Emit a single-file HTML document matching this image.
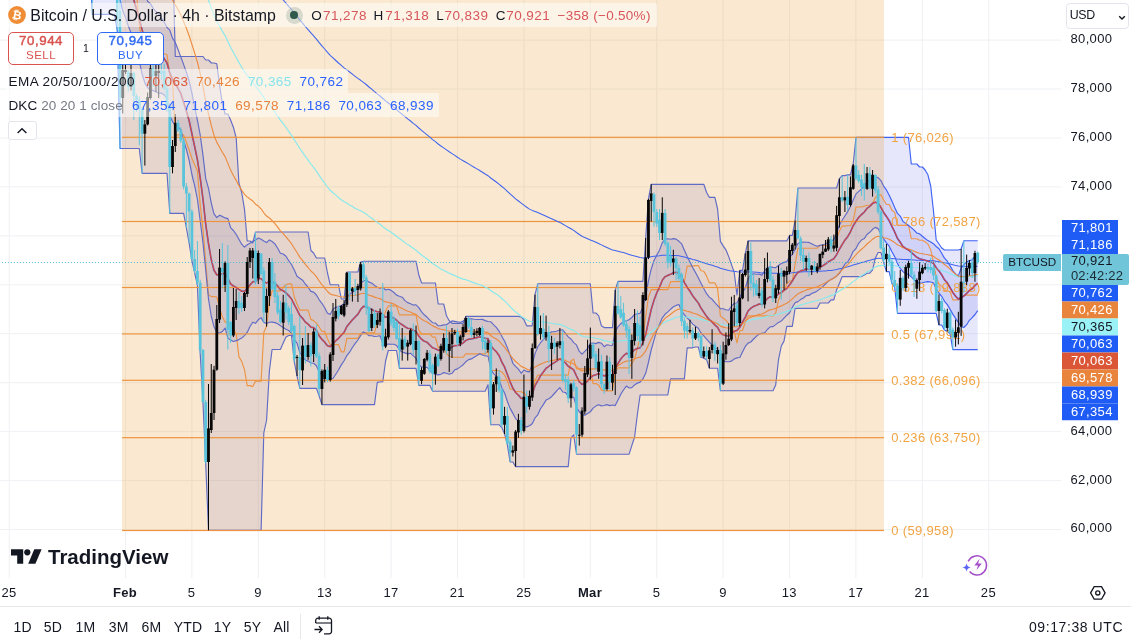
<!DOCTYPE html><html><head><meta charset="utf-8"><title>BTCUSD</title><style>
*{box-sizing:border-box;margin:0;padding:0}
html,body{width:1131px;height:644px;overflow:hidden;background:#fff}
body{font-family:"Liberation Sans",sans-serif;color:#131722;position:relative}
.abs{position:absolute;white-space:nowrap}
.pl{position:absolute;left:1061px;width:70px;font-size:13px;letter-spacing:.35px;color:#131722;height:16px;line-height:16px;padding-left:9.5px}
.tag{position:absolute;left:1062.3px;width:55.5px;height:17px;line-height:15.4px;font-size:13px;letter-spacing:.35px;color:#fff;padding-left:8.6px}
.tl{position:absolute;top:584.5px;font-size:13px;letter-spacing:.3px;color:#131722;height:16px;line-height:16px;transform:translateX(-50%);white-space:nowrap}
.bb{position:absolute;top:618.8px;font-size:14px;color:#131722;height:17px;line-height:17px;transform:translateX(-50%);white-space:nowrap;letter-spacing:.2px}
.lg{position:absolute;background:rgba(255,255,255,.52);border-radius:2px}
.v{letter-spacing:.45px}
</style></head><body>
<svg width="1131" height="644" viewBox="0 0 1131 644" style="position:absolute;left:0;top:0">
<defs><clipPath id="cp"><rect x="0" y="0" width="1061" height="578"/></clipPath></defs>
<rect x="0" y="39.6" width="1061" height="1" fill="#f0f1f4"/><rect x="0" y="88.5" width="1061" height="1" fill="#f0f1f4"/><rect x="0" y="137.5" width="1061" height="1" fill="#f0f1f4"/><rect x="0" y="186.4" width="1061" height="1" fill="#f0f1f4"/><rect x="0" y="235.4" width="1061" height="1" fill="#f0f1f4"/><rect x="0" y="284.3" width="1061" height="1" fill="#f0f1f4"/><rect x="0" y="333.2" width="1061" height="1" fill="#f0f1f4"/><rect x="0" y="382.2" width="1061" height="1" fill="#f0f1f4"/><rect x="0" y="431.1" width="1061" height="1" fill="#f0f1f4"/><rect x="0" y="480.1" width="1061" height="1" fill="#f0f1f4"/><rect x="0" y="529.0" width="1061" height="1" fill="#f0f1f4"/><rect x="8.8" y="0" width="1" height="578" fill="#f0f1f4"/><rect x="125.0" y="0" width="1" height="578" fill="#f0f1f4"/><rect x="191.4" y="0" width="1" height="578" fill="#f0f1f4"/><rect x="257.8" y="0" width="1" height="578" fill="#f0f1f4"/><rect x="324.2" y="0" width="1" height="578" fill="#f0f1f4"/><rect x="390.6" y="0" width="1" height="578" fill="#f0f1f4"/><rect x="457.0" y="0" width="1" height="578" fill="#f0f1f4"/><rect x="523.4" y="0" width="1" height="578" fill="#f0f1f4"/><rect x="589.8" y="0" width="1" height="578" fill="#f0f1f4"/><rect x="656.2" y="0" width="1" height="578" fill="#f0f1f4"/><rect x="722.6" y="0" width="1" height="578" fill="#f0f1f4"/><rect x="789.0" y="0" width="1" height="578" fill="#f0f1f4"/><rect x="855.4" y="0" width="1" height="578" fill="#f0f1f4"/><rect x="921.8" y="0" width="1" height="578" fill="#f0f1f4"/><rect x="988.2" y="0" width="1" height="578" fill="#f0f1f4"/>
<g clip-path="url(#cp)">
<path d="M86.7,-50.0 L89.5,-50.0 L92.3,-50.0 L95.0,-50.0 L97.8,-50.0 L100.6,-50.0 L103.3,-50.0 L106.1,-50.0 L108.9,-50.0 L111.6,-50.0 L114.4,-50.0 L117.2,-50.0 L120.0,-50.0 L122.7,-50.0 L125.5,-50.0 L128.3,-50.0 L131.0,-50.0 L133.8,-50.0 L136.6,-50.0 L139.3,-50.0 L142.1,-50.0 L144.9,-50.0 L147.6,-50.0 L150.4,-50.0 L153.2,-50.0 L155.9,-50.0 L158.7,-50.0 L161.5,-50.0 L164.2,-50.0 L167.0,-50.0 L169.8,-50.0 L172.5,-50.0 L175.3,56.5 L178.1,56.5 L180.8,56.5 L183.6,56.5 L186.4,56.5 L189.1,56.5 L191.9,56.5 L194.7,56.5 L197.4,56.5 L200.2,56.5 L203.0,56.5 L205.7,60.0 L208.5,60.0 L211.3,63.0 L214.0,63.0 L216.8,63.8 L219.6,85.3 L222.3,103.4 L225.1,114.0 L227.9,114.0 L230.6,120.0 L233.4,127.2 L236.2,138.0 L238.9,183.0 L241.7,192.5 L244.5,209.3 L247.2,241.0 L250.0,241.0 L252.8,243.0 L255.5,232.0 L258.3,232.0 L261.1,232.0 L263.8,232.0 L266.6,232.0 L269.4,232.0 L272.1,232.0 L274.9,232.0 L277.7,232.0 L280.4,232.0 L283.2,232.0 L286.0,232.0 L288.7,232.0 L291.5,232.0 L294.3,232.0 L297.0,232.0 L299.8,232.0 L302.6,232.0 L305.3,232.0 L308.1,232.0 L310.9,250.5 L313.6,253.0 L316.4,258.0 L319.2,258.0 L321.9,258.0 L324.7,258.0 L327.5,273.0 L330.2,284.7 L333.0,284.7 L335.8,284.7 L338.5,284.7 L341.3,299.0 L344.1,299.0 L346.8,272.0 L349.6,272.0 L352.4,272.0 L355.1,272.0 L357.9,272.0 L360.7,262.0 L363.4,261.2 L366.2,261.2 L369.0,261.2 L371.7,261.2 L374.5,261.2 L377.3,261.2 L380.0,261.2 L382.8,261.2 L385.6,261.2 L388.3,261.2 L391.1,261.2 L393.9,261.2 L396.6,261.2 L399.4,261.2 L402.2,261.2 L405.0,261.2 L407.7,261.2 L410.5,261.2 L413.3,261.2 L416.0,261.2 L418.8,275.0 L421.6,283.0 L424.3,283.0 L427.1,283.0 L429.9,283.0 L432.6,283.0 L435.4,283.0 L438.2,304.0 L440.9,304.0 L443.7,304.0 L446.5,315.8 L449.2,320.7 L452.0,323.3 L454.8,323.3 L457.5,323.3 L460.3,323.3 L463.1,323.3 L465.8,316.4 L468.6,316.4 L471.4,316.4 L474.1,316.4 L476.9,316.4 L479.7,316.4 L482.4,316.4 L485.2,316.4 L488.0,316.4 L490.7,316.4 L493.5,316.4 L496.3,316.4 L499.0,316.4 L501.8,316.4 L504.6,316.4 L507.3,316.4 L510.1,316.4 L512.9,316.4 L515.6,316.4 L518.4,316.4 L521.2,317.0 L523.9,319.5 L526.7,325.8 L529.5,325.8 L532.2,325.8 L535.0,294.7 L537.8,283.7 L540.5,283.7 L543.3,283.7 L546.1,283.7 L548.8,283.7 L551.6,283.7 L554.4,283.7 L557.1,283.7 L559.9,283.7 L562.7,283.7 L565.4,283.7 L568.2,283.7 L571.0,283.7 L573.7,283.7 L576.5,283.7 L579.3,283.7 L582.0,283.7 L584.8,283.7 L587.6,283.7 L590.3,283.7 L593.1,313.0 L595.9,313.0 L598.6,315.6 L601.4,325.7 L604.2,327.6 L606.9,327.6 L609.7,327.6 L612.5,327.6 L615.2,290.0 L618.0,281.4 L620.8,281.4 L623.5,281.4 L626.3,281.4 L629.1,281.4 L631.8,281.4 L634.6,281.4 L637.4,281.4 L640.1,281.4 L642.9,281.4 L645.7,238.0 L648.4,199.0 L651.2,184.3 L654.0,184.3 L656.7,184.3 L659.5,184.3 L662.3,184.3 L665.0,184.3 L667.8,184.3 L670.6,184.3 L673.4,184.3 L676.1,184.3 L678.9,184.3 L681.7,184.3 L684.4,184.3 L687.2,184.3 L690.0,184.3 L692.7,184.3 L695.5,184.3 L698.3,184.3 L701.0,184.3 L703.8,184.3 L706.6,192.5 L709.3,197.3 L712.1,197.3 L714.9,197.3 L717.6,209.0 L720.4,241.4 L723.2,245.9 L725.9,249.8 L728.7,256.6 L731.5,264.6 L734.2,272.4 L737.0,295.0 L739.8,270.4 L742.5,270.4 L745.3,253.3 L748.1,240.9 L750.8,240.9 L753.6,240.9 L756.4,240.9 L759.1,240.9 L761.9,240.9 L764.7,240.9 L767.4,240.9 L770.2,240.9 L773.0,240.9 L775.7,240.9 L778.5,240.9 L781.3,240.9 L784.0,240.9 L786.8,240.9 L789.6,235.4 L792.3,235.4 L795.1,220.6 L797.9,188.0 L800.6,188.0 L803.4,188.0 L806.2,188.0 L808.9,188.0 L811.7,188.0 L814.5,188.0 L817.2,188.0 L820.0,188.0 L822.8,188.0 L825.5,188.0 L828.3,188.0 L831.1,188.0 L833.8,188.0 L836.6,188.0 L839.4,178.7 L842.1,175.6 L844.9,175.6 L847.7,174.8 L850.4,174.8 L853.2,164.0 L856.0,137.3 L858.7,137.3 L861.5,137.3 L864.3,137.3 L867.0,137.3 L869.8,137.3 L872.6,137.3 L875.3,137.3 L878.1,137.3 L880.9,137.3 L883.6,137.3 L886.4,137.3 L889.2,137.3 L891.9,137.3 L894.7,137.3 L897.5,137.3 L900.2,137.3 L903.0,137.3 L905.8,137.3 L908.5,137.3 L911.3,164.0 L914.1,164.0 L916.8,164.0 L919.6,167.0 L922.4,167.0 L925.1,170.0 L927.9,174.8 L930.7,186.0 L933.4,210.3 L936.2,240.0 L939.0,244.0 L941.7,248.0 L944.5,250.0 L947.3,250.0 L950.1,250.0 L952.8,250.0 L955.6,250.0 L958.4,250.0 L961.1,249.0 L963.9,240.7 L966.7,240.7 L969.4,240.7 L972.2,240.7 L975.0,240.7 L977.7,240.7 L977.7,349.6 L975.0,349.6 L972.2,349.6 L969.4,349.6 L966.7,349.6 L963.9,349.6 L961.1,349.6 L958.4,349.6 L955.6,349.6 L952.8,349.6 L950.1,333.8 L947.3,331.4 L944.5,330.1 L941.7,325.0 L939.0,325.0 L936.2,313.4 L933.4,313.4 L930.7,313.4 L927.9,313.4 L925.1,313.4 L922.4,313.4 L919.6,313.4 L916.8,313.4 L914.1,313.4 L911.3,313.4 L908.5,313.4 L905.8,313.4 L903.0,313.4 L900.2,313.4 L897.5,313.4 L894.7,287.4 L891.9,283.4 L889.2,271.6 L886.4,271.6 L883.6,262.3 L880.9,252.5 L878.1,252.5 L875.3,258.2 L872.6,269.8 L869.8,273.2 L867.0,273.2 L864.3,275.0 L861.5,276.6 L858.7,276.6 L856.0,276.6 L853.2,276.6 L850.4,276.6 L847.7,276.6 L844.9,276.6 L842.1,276.6 L839.4,283.5 L836.6,289.8 L833.8,299.8 L831.1,299.8 L828.3,303.0 L825.5,303.0 L822.8,303.0 L820.0,303.0 L817.2,308.4 L814.5,308.4 L811.7,308.4 L808.9,308.4 L806.2,308.4 L803.4,308.4 L800.6,308.4 L797.9,308.4 L795.1,308.4 L792.3,326.4 L789.6,326.4 L786.8,326.4 L784.0,341.1 L781.3,346.0 L778.5,359.7 L775.7,385.0 L773.0,390.7 L770.2,390.7 L767.4,390.7 L764.7,390.7 L761.9,390.7 L759.1,390.7 L756.4,390.7 L753.6,390.7 L750.8,390.7 L748.1,390.7 L745.3,390.7 L742.5,390.7 L739.8,390.7 L737.0,390.7 L734.2,390.7 L731.5,390.7 L728.7,390.7 L725.9,390.7 L723.2,390.7 L720.4,390.7 L717.6,368.2 L714.9,368.2 L712.1,368.2 L709.3,368.2 L706.6,359.7 L703.8,358.2 L701.0,357.3 L698.3,347.0 L695.5,347.0 L692.7,347.8 L690.0,347.8 L687.2,347.8 L684.4,378.8 L681.7,378.8 L678.9,378.8 L676.1,378.8 L673.4,378.8 L670.6,378.8 L667.8,395.0 L665.0,395.0 L662.3,395.0 L659.5,395.0 L656.7,395.0 L654.0,395.0 L651.2,395.0 L648.4,395.0 L645.7,395.0 L642.9,395.0 L640.1,395.0 L637.4,414.3 L634.6,437.0 L631.8,445.6 L629.1,454.2 L626.3,454.2 L623.5,454.2 L620.8,454.2 L618.0,454.2 L615.2,454.2 L612.5,454.2 L609.7,454.2 L606.9,454.2 L604.2,454.2 L601.4,454.2 L598.6,454.2 L595.9,454.2 L593.1,454.2 L590.3,454.2 L587.6,454.2 L584.8,454.2 L582.0,454.2 L579.3,454.2 L576.5,454.2 L573.7,434.8 L571.0,437.9 L568.2,466.6 L565.4,466.6 L562.7,466.6 L559.9,466.6 L557.1,466.6 L554.4,466.6 L551.6,466.6 L548.8,466.6 L546.1,466.6 L543.3,466.6 L540.5,466.6 L537.8,466.6 L535.0,466.6 L532.2,466.6 L529.5,466.6 L526.7,466.6 L523.9,466.6 L521.2,466.6 L518.4,466.6 L515.6,466.6 L512.9,462.0 L510.1,462.0 L507.3,444.3 L504.6,434.0 L501.8,427.5 L499.0,424.7 L496.3,424.7 L493.5,424.7 L490.7,424.7 L488.0,384.7 L485.2,391.2 L482.4,391.2 L479.7,391.2 L476.9,391.2 L474.1,391.2 L471.4,391.2 L468.6,391.2 L465.8,391.2 L463.1,391.2 L460.3,391.2 L457.5,391.2 L454.8,391.2 L452.0,391.2 L449.2,391.2 L446.5,391.2 L443.7,391.2 L440.9,391.2 L438.2,391.2 L435.4,391.2 L432.6,391.2 L429.9,385.4 L427.1,385.4 L424.3,385.4 L421.6,385.4 L418.8,385.4 L416.0,368.4 L413.3,368.4 L410.5,368.4 L407.7,368.4 L405.0,368.4 L402.2,368.4 L399.4,368.4 L396.6,350.5 L393.9,350.5 L391.1,350.5 L388.3,350.5 L385.6,361.0 L382.8,381.6 L380.0,382.0 L377.3,382.4 L374.5,404.6 L371.7,404.6 L369.0,404.6 L366.2,404.6 L363.4,404.6 L360.7,404.6 L357.9,404.6 L355.1,404.6 L352.4,404.6 L349.6,404.6 L346.8,404.6 L344.1,404.6 L341.3,404.6 L338.5,404.6 L335.8,404.6 L333.0,404.6 L330.2,404.6 L327.5,404.6 L324.7,404.6 L321.9,404.6 L319.2,396.0 L316.4,388.3 L313.6,388.3 L310.9,388.3 L308.1,388.3 L305.3,388.3 L302.6,388.3 L299.8,388.3 L297.0,376.0 L294.3,362.0 L291.5,335.5 L288.7,335.5 L286.0,337.1 L283.2,343.0 L280.4,349.5 L277.7,349.5 L274.9,349.5 L272.1,349.5 L269.4,370.7 L266.6,420.0 L263.8,433.0 L261.1,530.3 L258.3,530.3 L255.5,530.3 L252.8,530.3 L250.0,530.3 L247.2,530.3 L244.5,530.3 L241.7,530.3 L238.9,530.3 L236.2,530.3 L233.4,530.3 L230.6,530.3 L227.9,530.3 L225.1,530.3 L222.3,530.3 L219.6,530.3 L216.8,530.3 L214.0,530.3 L211.3,530.3 L208.5,530.3 L205.7,463.6 L203.0,403.0 L200.2,353.4 L197.4,285.4 L194.7,273.2 L191.9,260.6 L189.1,243.0 L186.4,228.0 L183.6,213.4 L180.8,213.4 L178.1,213.4 L175.3,213.4 L172.5,213.4 L169.8,213.4 L167.0,173.3 L164.2,173.3 L161.5,173.3 L158.7,173.3 L155.9,173.3 L153.2,173.3 L150.4,173.3 L147.6,173.3 L144.9,173.3 L142.1,173.3 L139.3,148.5 L136.6,148.5 L133.8,148.5 L131.0,148.5 L128.3,148.5 L125.5,148.5 L122.7,148.5 L120.0,148.5 L117.2,30.0 L114.4,14.4 L111.6,14.4 L108.9,14.4 L106.1,14.4 L103.3,14.4 L100.6,14.4 L97.8,14.4 L95.0,14.4 L92.3,14.4 L89.5,-40.0 L86.7,-40.0Z" fill="rgba(55,60,225,0.125)"/>
<path d="M120.0,-50.0 L122.7,-50.0 L125.5,-50.0 L128.3,-50.0 L131.0,-50.0 L133.8,-43.4 L136.6,-31.5 L139.3,-22.8 L142.1,-14.1 L144.9,-5.3 L147.6,1.3 L150.4,3.6 L153.2,8.4 L155.9,11.3 L158.7,13.7 L161.5,17.8 L164.2,22.1 L167.0,27.4 L169.8,30.2 L172.5,38.1 L175.3,42.5 L178.1,49.8 L180.8,56.9 L183.6,64.4 L186.4,72.4 L189.1,80.8 L191.9,92.9 L194.7,107.7 L197.4,120.1 L200.2,135.0 L203.0,155.3 L205.7,178.4 L208.5,188.3 L211.3,203.1 L214.0,213.8 L216.8,217.6 L219.6,215.3 L222.3,216.4 L225.1,217.9 L227.9,218.6 L230.6,227.7 L233.4,230.5 L236.2,234.3 L238.9,239.2 L241.7,244.2 L244.5,247.1 L247.2,244.7 L250.0,243.3 L252.8,241.1 L255.5,240.0 L258.3,238.0 L261.1,239.3 L263.8,241.0 L266.6,242.6 L269.4,239.9 L272.1,241.5 L274.9,243.9 L277.7,248.3 L280.4,253.2 L283.2,254.0 L286.0,256.3 L288.7,260.7 L291.5,264.5 L294.3,269.9 L297.0,276.2 L299.8,278.3 L302.6,280.2 L305.3,284.0 L308.1,287.2 L310.9,291.4 L313.6,292.1 L316.4,295.0 L319.2,299.8 L321.9,303.3 L324.7,307.8 L327.5,313.2 L330.2,314.4 L333.0,309.1 L335.8,307.1 L338.5,306.7 L341.3,305.6 L344.1,303.8 L346.8,297.5 L349.6,294.2 L352.4,292.3 L355.1,290.5 L357.9,288.4 L360.7,283.3 L363.4,281.0 L366.2,279.7 L369.0,282.1 L371.7,283.0 L374.5,285.4 L377.3,287.2 L380.0,288.1 L382.8,287.2 L385.6,290.0 L388.3,289.3 L391.1,290.4 L393.9,292.5 L396.6,295.1 L399.4,296.2 L402.2,297.2 L405.0,300.6 L407.7,302.6 L410.5,303.7 L413.3,305.1 L416.0,304.8 L418.8,307.6 L421.6,311.9 L424.3,314.8 L427.1,317.3 L429.9,320.2 L432.6,322.7 L435.4,323.0 L438.2,325.8 L440.9,325.6 L443.7,324.9 L446.5,324.7 L449.2,322.7 L452.0,320.9 L454.8,321.4 L457.5,321.9 L460.3,322.2 L463.1,321.1 L465.8,319.3 L468.6,318.9 L471.4,318.7 L474.1,319.2 L476.9,319.5 L479.7,319.5 L482.4,319.4 L485.2,320.6 L488.0,321.5 L490.7,321.7 L493.5,324.6 L496.3,327.3 L499.0,331.1 L501.8,336.3 L504.6,341.3 L507.3,347.4 L510.1,355.3 L512.9,363.3 L515.6,366.3 L518.4,369.1 L521.2,373.3 L523.9,370.0 L526.7,371.4 L529.5,371.9 L532.2,364.2 L535.0,353.6 L537.8,346.8 L540.5,342.7 L543.3,339.6 L546.1,336.5 L548.8,334.1 L551.6,331.7 L554.4,331.7 L557.1,331.0 L559.9,330.0 L562.7,329.8 L565.4,333.2 L568.2,336.9 L571.0,339.0 L573.7,342.6 L576.5,344.9 L579.3,351.4 L582.0,354.2 L584.8,351.4 L587.6,348.5 L590.3,343.2 L593.1,343.0 L595.9,343.6 L598.6,342.4 L601.4,343.2 L604.2,346.7 L606.9,344.8 L609.7,345.2 L612.5,345.5 L615.2,331.7 L618.0,326.8 L620.8,323.7 L623.5,321.6 L626.3,320.8 L629.1,319.7 L631.8,317.5 L634.6,314.5 L637.4,313.8 L640.1,313.4 L642.9,306.6 L645.7,295.9 L648.4,281.1 L651.2,269.2 L654.0,260.5 L656.7,255.3 L659.5,250.2 L662.3,242.6 L665.0,239.2 L667.8,238.8 L670.6,239.2 L673.4,238.6 L676.1,239.1 L678.9,241.3 L681.7,243.9 L684.4,250.2 L687.2,256.4 L690.0,262.2 L692.7,267.6 L695.5,272.5 L698.3,277.8 L701.0,283.2 L703.8,288.5 L706.6,293.7 L709.3,297.1 L712.1,299.3 L714.9,302.7 L717.6,305.6 L720.4,308.7 L723.2,308.8 L725.9,309.7 L728.7,310.3 L731.5,306.0 L734.2,303.3 L737.0,303.0 L739.8,297.1 L742.5,292.4 L745.3,288.0 L748.1,278.7 L750.8,274.6 L753.6,273.7 L756.4,274.2 L759.1,274.1 L761.9,275.1 L764.7,270.7 L767.4,267.6 L770.2,266.9 L773.0,267.4 L775.7,267.6 L778.5,265.5 L781.3,263.5 L784.0,262.4 L786.8,261.6 L789.6,256.8 L792.3,254.5 L795.1,249.4 L797.9,243.5 L800.6,242.3 L803.4,242.1 L806.2,242.2 L808.9,242.4 L811.7,243.7 L814.5,245.2 L817.2,246.3 L820.0,245.4 L822.8,244.7 L825.5,244.0 L828.3,242.2 L831.1,241.0 L833.8,239.8 L836.6,233.1 L839.4,225.1 L842.1,220.2 L844.9,216.0 L847.7,211.6 L850.4,206.4 L853.2,200.0 L856.0,193.9 L858.7,191.4 L861.5,189.0 L864.3,185.5 L867.0,182.2 L869.8,180.6 L872.6,177.5 L875.3,177.0 L878.1,177.6 L880.9,180.6 L883.6,186.1 L886.4,189.9 L889.2,195.2 L891.9,200.9 L894.7,207.5 L897.5,213.4 L900.2,216.1 L903.0,221.6 L905.8,223.4 L908.5,225.5 L911.3,227.6 L914.1,230.2 L916.8,233.0 L919.6,233.9 L922.4,236.3 L925.1,238.5 L927.9,240.6 L930.7,241.9 L933.4,243.7 L936.2,246.5 L939.0,248.8 L941.7,253.2 L944.5,258.2 L947.3,261.2 L950.1,265.9 L952.8,270.6 L955.6,273.9 L958.4,275.9 L961.1,268.2 L963.9,264.6 L966.7,262.0 L969.4,260.6 L972.2,259.9 L975.0,256.3 L977.7,255.7 L977.7,310.7 L975.0,314.5 L972.2,317.7 L969.4,320.3 L966.7,324.7 L963.9,327.5 L961.1,326.8 L958.4,322.4 L955.6,318.4 L952.8,314.1 L950.1,309.4 L947.3,304.6 L944.5,301.3 L941.7,296.3 L939.0,293.1 L936.2,289.1 L933.4,282.8 L930.7,282.0 L927.9,281.6 L925.1,282.0 L922.4,282.8 L919.6,283.4 L916.8,281.6 L914.1,279.7 L911.3,276.9 L908.5,274.4 L905.8,273.7 L903.0,271.6 L900.2,268.3 L897.5,263.6 L894.7,256.6 L891.9,251.8 L889.2,246.2 L886.4,242.8 L883.6,238.8 L880.9,234.2 L878.1,228.6 L875.3,227.4 L872.6,229.3 L869.8,232.3 L867.0,234.5 L864.3,238.6 L861.5,240.0 L858.7,243.3 L856.0,248.5 L853.2,251.3 L850.4,257.6 L847.7,261.9 L844.9,264.1 L842.1,268.9 L839.4,273.4 L836.6,276.2 L833.8,277.9 L831.1,279.5 L828.3,281.2 L825.5,284.2 L822.8,286.7 L820.0,288.9 L817.2,290.9 L814.5,292.4 L811.7,293.5 L808.9,295.4 L806.2,295.6 L803.4,298.0 L800.6,299.6 L797.9,301.6 L795.1,302.8 L792.3,307.4 L789.6,312.8 L786.8,315.3 L784.0,318.2 L781.3,321.1 L778.5,322.4 L775.7,324.6 L773.0,326.6 L770.2,326.8 L767.4,329.5 L764.7,332.8 L761.9,333.2 L759.1,334.1 L756.4,336.3 L753.6,339.0 L750.8,342.0 L748.1,343.1 L745.3,346.4 L742.5,352.0 L739.8,357.5 L737.0,357.9 L734.2,359.0 L731.5,361.1 L728.7,361.7 L725.9,361.7 L723.2,360.6 L720.4,356.8 L717.6,349.2 L714.9,347.4 L712.1,344.7 L709.3,342.2 L706.6,339.1 L703.8,335.8 L701.0,333.0 L698.3,328.2 L695.5,326.2 L692.7,324.1 L690.0,320.5 L687.2,318.1 L684.4,315.0 L681.7,311.2 L678.9,304.5 L676.1,305.4 L673.4,306.8 L670.6,309.2 L667.8,311.9 L665.0,314.3 L662.3,317.8 L659.5,324.3 L656.7,330.7 L654.0,340.1 L651.2,350.0 L648.4,362.5 L645.7,373.3 L642.9,378.9 L640.1,382.1 L637.4,383.1 L634.6,384.9 L631.8,387.6 L629.1,388.0 L626.3,386.1 L623.5,390.0 L620.8,394.3 L618.0,400.0 L615.2,405.6 L612.5,405.0 L609.7,405.6 L606.9,404.6 L604.2,405.5 L601.4,405.9 L598.6,404.7 L595.9,406.1 L593.1,408.1 L590.3,411.8 L587.6,413.4 L584.8,415.3 L582.0,414.6 L579.3,411.9 L576.5,407.2 L573.7,397.2 L571.0,396.9 L568.2,395.6 L565.4,392.5 L562.7,392.0 L559.9,387.7 L557.1,390.4 L554.4,393.5 L551.6,396.7 L548.8,398.8 L546.1,400.1 L543.3,404.6 L540.5,408.8 L537.8,414.8 L535.0,417.9 L532.2,423.8 L529.5,425.8 L526.7,426.9 L523.9,426.6 L521.2,423.7 L518.4,421.0 L515.6,418.6 L512.9,413.4 L510.1,408.4 L507.3,401.3 L504.6,393.0 L501.8,387.7 L499.0,379.6 L496.3,376.1 L493.5,373.6 L490.7,369.0 L488.0,356.0 L485.2,356.0 L482.4,355.0 L479.7,353.8 L476.9,355.6 L474.1,357.3 L471.4,358.9 L468.6,359.6 L465.8,361.8 L463.1,364.7 L460.3,366.9 L457.5,368.9 L454.8,369.8 L452.0,373.3 L449.2,374.3 L446.5,373.3 L443.7,372.6 L440.9,374.2 L438.2,374.9 L435.4,374.4 L432.6,373.0 L429.9,370.0 L427.1,367.3 L424.3,367.6 L421.6,366.8 L418.8,364.7 L416.0,358.2 L413.3,355.9 L410.5,353.2 L407.7,353.9 L405.0,352.9 L402.2,352.1 L399.4,350.0 L396.6,345.5 L393.9,344.2 L391.1,344.2 L388.3,344.1 L385.6,344.4 L382.8,343.2 L380.0,335.8 L377.3,336.3 L374.5,336.5 L371.7,335.7 L369.0,335.7 L366.2,333.4 L363.4,331.9 L360.7,335.5 L357.9,340.0 L355.1,343.7 L352.4,347.5 L349.6,352.2 L346.8,355.7 L344.1,360.7 L341.3,364.9 L338.5,370.0 L335.8,374.2 L333.0,378.5 L330.2,378.8 L327.5,378.3 L324.7,376.5 L321.9,375.3 L319.2,372.1 L316.4,365.7 L313.6,363.2 L310.9,363.0 L308.1,361.1 L305.3,360.0 L302.6,356.3 L299.8,352.5 L297.0,343.1 L294.3,339.5 L291.5,333.4 L288.7,330.5 L286.0,329.3 L283.2,327.4 L280.4,325.8 L277.7,323.8 L274.9,322.6 L272.1,322.1 L269.4,322.2 L266.6,323.5 L263.8,322.4 L261.1,317.6 L258.3,319.8 L255.5,323.3 L252.8,322.2 L250.0,326.5 L247.2,332.4 L244.5,335.6 L241.7,338.1 L238.9,339.6 L236.2,340.6 L233.4,341.5 L230.6,340.0 L227.9,338.1 L225.1,328.0 L222.3,331.6 L219.6,333.1 L216.8,332.2 L214.0,326.7 L211.3,316.5 L208.5,299.0 L205.7,270.0 L203.0,243.1 L200.2,220.7 L197.4,199.3 L194.7,185.9 L191.9,174.5 L189.1,160.2 L186.4,149.5 L183.6,140.1 L180.8,129.8 L178.1,127.0 L175.3,125.3 L172.5,121.6 L169.8,115.5 L167.0,98.5 L164.2,95.0 L161.5,93.0 L158.7,93.2 L155.9,91.8 L153.2,90.6 L150.4,89.9 L147.6,87.6 L144.9,83.1 L142.1,74.0 L139.3,60.8 L136.6,50.5 L133.8,43.4 L131.0,32.9 L128.3,26.0 L125.5,17.2 L122.7,10.7 L120.0,-0.6Z" fill="rgba(55,60,225,0.125)"/>
<path d="M86.7,-50.0 L89.5,-50.0 L92.3,-50.0 L95.0,-50.0 L97.8,-50.0 L100.6,-50.0 L103.3,-50.0 L106.1,-50.0 L108.9,-50.0 L111.6,-50.0 L114.4,-50.0 L117.2,-50.0 L120.0,-50.0 L122.7,-50.0 L125.5,-50.0 L128.3,-50.0 L131.0,-50.0 L133.8,-50.0 L136.6,-50.0 L139.3,-50.0 L142.1,-50.0 L144.9,-50.0 L147.6,-50.0 L150.4,-50.0 L153.2,-50.0 L155.9,-50.0 L158.7,-50.0 L161.5,-50.0 L164.2,-50.0 L167.0,-50.0 L169.8,-50.0 L172.5,-50.0 L175.3,56.5 L178.1,56.5 L180.8,56.5 L183.6,56.5 L186.4,56.5 L189.1,56.5 L191.9,56.5 L194.7,56.5 L197.4,56.5 L200.2,56.5 L203.0,56.5 L205.7,60.0 L208.5,60.0 L211.3,63.0 L214.0,63.0 L216.8,63.8 L219.6,85.3 L222.3,103.4 L225.1,114.0 L227.9,114.0 L230.6,120.0 L233.4,127.2 L236.2,138.0 L238.9,183.0 L241.7,192.5 L244.5,209.3 L247.2,241.0 L250.0,241.0 L252.8,243.0 L255.5,232.0 L258.3,232.0 L261.1,232.0 L263.8,232.0 L266.6,232.0 L269.4,232.0 L272.1,232.0 L274.9,232.0 L277.7,232.0 L280.4,232.0 L283.2,232.0 L286.0,232.0 L288.7,232.0 L291.5,232.0 L294.3,232.0 L297.0,232.0 L299.8,232.0 L302.6,232.0 L305.3,232.0 L308.1,232.0 L310.9,250.5 L313.6,253.0 L316.4,258.0 L319.2,258.0 L321.9,258.0 L324.7,258.0 L327.5,273.0 L330.2,284.7 L333.0,284.7 L335.8,284.7 L338.5,284.7 L341.3,299.0 L344.1,299.0 L346.8,272.0 L349.6,272.0 L352.4,272.0 L355.1,272.0 L357.9,272.0 L360.7,262.0 L363.4,261.2 L366.2,261.2 L369.0,261.2 L371.7,261.2 L374.5,261.2 L377.3,261.2 L380.0,261.2 L382.8,261.2 L385.6,261.2 L388.3,261.2 L391.1,261.2 L393.9,261.2 L396.6,261.2 L399.4,261.2 L402.2,261.2 L405.0,261.2 L407.7,261.2 L410.5,261.2 L413.3,261.2 L416.0,261.2 L418.8,275.0 L421.6,283.0 L424.3,283.0 L427.1,283.0 L429.9,283.0 L432.6,283.0 L435.4,283.0 L438.2,304.0 L440.9,304.0 L443.7,304.0 L446.5,315.8 L449.2,320.7 L452.0,323.3 L454.8,323.3 L457.5,323.3 L460.3,323.3 L463.1,323.3 L465.8,316.4 L468.6,316.4 L471.4,316.4 L474.1,316.4 L476.9,316.4 L479.7,316.4 L482.4,316.4 L485.2,316.4 L488.0,316.4 L490.7,316.4 L493.5,316.4 L496.3,316.4 L499.0,316.4 L501.8,316.4 L504.6,316.4 L507.3,316.4 L510.1,316.4 L512.9,316.4 L515.6,316.4 L518.4,316.4 L521.2,317.0 L523.9,319.5 L526.7,325.8 L529.5,325.8 L532.2,325.8 L535.0,294.7 L537.8,283.7 L540.5,283.7 L543.3,283.7 L546.1,283.7 L548.8,283.7 L551.6,283.7 L554.4,283.7 L557.1,283.7 L559.9,283.7 L562.7,283.7 L565.4,283.7 L568.2,283.7 L571.0,283.7 L573.7,283.7 L576.5,283.7 L579.3,283.7 L582.0,283.7 L584.8,283.7 L587.6,283.7 L590.3,283.7 L593.1,313.0 L595.9,313.0 L598.6,315.6 L601.4,325.7 L604.2,327.6 L606.9,327.6 L609.7,327.6 L612.5,327.6 L615.2,290.0 L618.0,281.4 L620.8,281.4 L623.5,281.4 L626.3,281.4 L629.1,281.4 L631.8,281.4 L634.6,281.4 L637.4,281.4 L640.1,281.4 L642.9,281.4 L645.7,238.0 L648.4,199.0 L651.2,184.3 L654.0,184.3 L656.7,184.3 L659.5,184.3 L662.3,184.3 L665.0,184.3 L667.8,184.3 L670.6,184.3 L673.4,184.3 L676.1,184.3 L678.9,184.3 L681.7,184.3 L684.4,184.3 L687.2,184.3 L690.0,184.3 L692.7,184.3 L695.5,184.3 L698.3,184.3 L701.0,184.3 L703.8,184.3 L706.6,192.5 L709.3,197.3 L712.1,197.3 L714.9,197.3 L717.6,209.0 L720.4,241.4 L723.2,245.9 L725.9,249.8 L728.7,256.6 L731.5,264.6 L734.2,272.4 L737.0,295.0 L739.8,270.4 L742.5,270.4 L745.3,253.3 L748.1,240.9 L750.8,240.9 L753.6,240.9 L756.4,240.9 L759.1,240.9 L761.9,240.9 L764.7,240.9 L767.4,240.9 L770.2,240.9 L773.0,240.9 L775.7,240.9 L778.5,240.9 L781.3,240.9 L784.0,240.9 L786.8,240.9 L789.6,235.4 L792.3,235.4 L795.1,220.6 L797.9,188.0 L800.6,188.0 L803.4,188.0 L806.2,188.0 L808.9,188.0 L811.7,188.0 L814.5,188.0 L817.2,188.0 L820.0,188.0 L822.8,188.0 L825.5,188.0 L828.3,188.0 L831.1,188.0 L833.8,188.0 L836.6,188.0 L839.4,178.7 L842.1,175.6 L844.9,175.6 L847.7,174.8 L850.4,174.8 L853.2,164.0 L856.0,137.3 L858.7,137.3 L861.5,137.3 L864.3,137.3 L867.0,137.3 L869.8,137.3 L872.6,137.3 L875.3,137.3 L878.1,137.3 L880.9,137.3 L883.6,137.3 L886.4,137.3 L889.2,137.3 L891.9,137.3 L894.7,137.3 L897.5,137.3 L900.2,137.3 L903.0,137.3 L905.8,137.3 L908.5,137.3 L911.3,164.0 L914.1,164.0 L916.8,164.0 L919.6,167.0 L922.4,167.0 L925.1,170.0 L927.9,174.8 L930.7,186.0 L933.4,210.3 L936.2,240.0 L939.0,244.0 L941.7,248.0 L944.5,250.0 L947.3,250.0 L950.1,250.0 L952.8,250.0 L955.6,250.0 L958.4,250.0 L961.1,249.0 L963.9,240.7 L966.7,240.7 L969.4,240.7 L972.2,240.7 L975.0,240.7 L977.7,240.7" fill="none" stroke="#3f62f3" stroke-width="1.15" stroke-linejoin="round"/>
<path d="M86.7,-40.0 L89.5,-40.0 L92.3,14.4 L95.0,14.4 L97.8,14.4 L100.6,14.4 L103.3,14.4 L106.1,14.4 L108.9,14.4 L111.6,14.4 L114.4,14.4 L117.2,30.0 L120.0,148.5 L122.7,148.5 L125.5,148.5 L128.3,148.5 L131.0,148.5 L133.8,148.5 L136.6,148.5 L139.3,148.5 L142.1,173.3 L144.9,173.3 L147.6,173.3 L150.4,173.3 L153.2,173.3 L155.9,173.3 L158.7,173.3 L161.5,173.3 L164.2,173.3 L167.0,173.3 L169.8,213.4 L172.5,213.4 L175.3,213.4 L178.1,213.4 L180.8,213.4 L183.6,213.4 L186.4,228.0 L189.1,243.0 L191.9,260.6 L194.7,273.2 L197.4,285.4 L200.2,353.4 L203.0,403.0 L205.7,463.6 L208.5,530.3 L211.3,530.3 L214.0,530.3 L216.8,530.3 L219.6,530.3 L222.3,530.3 L225.1,530.3 L227.9,530.3 L230.6,530.3 L233.4,530.3 L236.2,530.3 L238.9,530.3 L241.7,530.3 L244.5,530.3 L247.2,530.3 L250.0,530.3 L252.8,530.3 L255.5,530.3 L258.3,530.3 L261.1,530.3 L263.8,433.0 L266.6,420.0 L269.4,370.7 L272.1,349.5 L274.9,349.5 L277.7,349.5 L280.4,349.5 L283.2,343.0 L286.0,337.1 L288.7,335.5 L291.5,335.5 L294.3,362.0 L297.0,376.0 L299.8,388.3 L302.6,388.3 L305.3,388.3 L308.1,388.3 L310.9,388.3 L313.6,388.3 L316.4,388.3 L319.2,396.0 L321.9,404.6 L324.7,404.6 L327.5,404.6 L330.2,404.6 L333.0,404.6 L335.8,404.6 L338.5,404.6 L341.3,404.6 L344.1,404.6 L346.8,404.6 L349.6,404.6 L352.4,404.6 L355.1,404.6 L357.9,404.6 L360.7,404.6 L363.4,404.6 L366.2,404.6 L369.0,404.6 L371.7,404.6 L374.5,404.6 L377.3,382.4 L380.0,382.0 L382.8,381.6 L385.6,361.0 L388.3,350.5 L391.1,350.5 L393.9,350.5 L396.6,350.5 L399.4,368.4 L402.2,368.4 L405.0,368.4 L407.7,368.4 L410.5,368.4 L413.3,368.4 L416.0,368.4 L418.8,385.4 L421.6,385.4 L424.3,385.4 L427.1,385.4 L429.9,385.4 L432.6,391.2 L435.4,391.2 L438.2,391.2 L440.9,391.2 L443.7,391.2 L446.5,391.2 L449.2,391.2 L452.0,391.2 L454.8,391.2 L457.5,391.2 L460.3,391.2 L463.1,391.2 L465.8,391.2 L468.6,391.2 L471.4,391.2 L474.1,391.2 L476.9,391.2 L479.7,391.2 L482.4,391.2 L485.2,391.2 L488.0,384.7 L490.7,424.7 L493.5,424.7 L496.3,424.7 L499.0,424.7 L501.8,427.5 L504.6,434.0 L507.3,444.3 L510.1,462.0 L512.9,462.0 L515.6,466.6 L518.4,466.6 L521.2,466.6 L523.9,466.6 L526.7,466.6 L529.5,466.6 L532.2,466.6 L535.0,466.6 L537.8,466.6 L540.5,466.6 L543.3,466.6 L546.1,466.6 L548.8,466.6 L551.6,466.6 L554.4,466.6 L557.1,466.6 L559.9,466.6 L562.7,466.6 L565.4,466.6 L568.2,466.6 L571.0,437.9 L573.7,434.8 L576.5,454.2 L579.3,454.2 L582.0,454.2 L584.8,454.2 L587.6,454.2 L590.3,454.2 L593.1,454.2 L595.9,454.2 L598.6,454.2 L601.4,454.2 L604.2,454.2 L606.9,454.2 L609.7,454.2 L612.5,454.2 L615.2,454.2 L618.0,454.2 L620.8,454.2 L623.5,454.2 L626.3,454.2 L629.1,454.2 L631.8,445.6 L634.6,437.0 L637.4,414.3 L640.1,395.0 L642.9,395.0 L645.7,395.0 L648.4,395.0 L651.2,395.0 L654.0,395.0 L656.7,395.0 L659.5,395.0 L662.3,395.0 L665.0,395.0 L667.8,395.0 L670.6,378.8 L673.4,378.8 L676.1,378.8 L678.9,378.8 L681.7,378.8 L684.4,378.8 L687.2,347.8 L690.0,347.8 L692.7,347.8 L695.5,347.0 L698.3,347.0 L701.0,357.3 L703.8,358.2 L706.6,359.7 L709.3,368.2 L712.1,368.2 L714.9,368.2 L717.6,368.2 L720.4,390.7 L723.2,390.7 L725.9,390.7 L728.7,390.7 L731.5,390.7 L734.2,390.7 L737.0,390.7 L739.8,390.7 L742.5,390.7 L745.3,390.7 L748.1,390.7 L750.8,390.7 L753.6,390.7 L756.4,390.7 L759.1,390.7 L761.9,390.7 L764.7,390.7 L767.4,390.7 L770.2,390.7 L773.0,390.7 L775.7,385.0 L778.5,359.7 L781.3,346.0 L784.0,341.1 L786.8,326.4 L789.6,326.4 L792.3,326.4 L795.1,308.4 L797.9,308.4 L800.6,308.4 L803.4,308.4 L806.2,308.4 L808.9,308.4 L811.7,308.4 L814.5,308.4 L817.2,308.4 L820.0,303.0 L822.8,303.0 L825.5,303.0 L828.3,303.0 L831.1,299.8 L833.8,299.8 L836.6,289.8 L839.4,283.5 L842.1,276.6 L844.9,276.6 L847.7,276.6 L850.4,276.6 L853.2,276.6 L856.0,276.6 L858.7,276.6 L861.5,276.6 L864.3,275.0 L867.0,273.2 L869.8,273.2 L872.6,269.8 L875.3,258.2 L878.1,252.5 L880.9,252.5 L883.6,262.3 L886.4,271.6 L889.2,271.6 L891.9,283.4 L894.7,287.4 L897.5,313.4 L900.2,313.4 L903.0,313.4 L905.8,313.4 L908.5,313.4 L911.3,313.4 L914.1,313.4 L916.8,313.4 L919.6,313.4 L922.4,313.4 L925.1,313.4 L927.9,313.4 L930.7,313.4 L933.4,313.4 L936.2,313.4 L939.0,325.0 L941.7,325.0 L944.5,330.1 L947.3,331.4 L950.1,333.8 L952.8,349.6 L955.6,349.6 L958.4,349.6 L961.1,349.6 L963.9,349.6 L966.7,349.6 L969.4,349.6 L972.2,349.6 L975.0,349.6 L977.7,349.6" fill="none" stroke="#3f62f3" stroke-width="1.15" stroke-linejoin="round"/>
<path d="M86.7,-50.0 L89.5,-50.0 L92.3,-50.0 L95.0,-50.0 L97.8,-50.0 L100.6,-50.0 L103.3,-50.0 L106.1,-50.0 L108.9,-50.0 L111.6,-50.0 L114.4,-50.0 L117.2,-50.0 L120.0,-50.0 L122.7,-50.0 L125.5,-50.0 L128.3,-50.0 L131.0,-50.0 L133.8,-50.0 L136.6,-5.8 L139.3,25.2 L142.1,41.7 L144.9,44.2 L147.6,46.7 L150.4,47.7 L153.2,49.2 L155.9,50.7 L158.7,51.7 L161.5,52.7 L164.2,53.7 L167.0,54.7 L169.8,75.7 L172.5,76.7 L175.3,134.9 L178.1,134.9 L180.8,134.9 L183.6,134.9 L186.4,142.2 L189.1,149.8 L191.9,158.6 L194.7,164.8 L197.4,171.0 L200.2,204.9 L203.0,229.8 L205.7,261.8 L208.5,295.1 L211.3,296.6 L214.0,296.6 L216.8,297.0 L219.6,307.8 L222.3,316.8 L225.1,322.1 L227.9,322.1 L230.6,325.1 L233.4,328.8 L236.2,334.1 L238.9,356.6 L241.7,361.4 L244.5,369.8 L247.2,385.6 L250.0,385.6 L252.8,386.6 L255.5,381.1 L258.3,381.1 L261.1,381.1 L263.8,332.5 L266.6,326.0 L269.4,301.4 L272.1,290.8 L274.9,290.8 L277.7,290.8 L280.4,290.8 L283.2,287.5 L286.0,284.6 L288.7,283.8 L291.5,283.8 L294.3,297.0 L297.0,304.0 L299.8,310.1 L302.6,310.1 L305.3,310.1 L308.1,310.1 L310.9,319.4 L313.6,320.6 L316.4,323.1 L319.2,327.0 L321.9,331.3 L324.7,331.3 L327.5,338.8 L330.2,344.6 L333.0,344.6 L335.8,344.6 L338.5,344.6 L341.3,351.8 L344.1,351.8 L346.8,338.3 L349.6,338.3 L352.4,338.3 L355.1,338.3 L357.9,338.3 L360.7,333.3 L363.4,332.9 L366.2,332.9 L369.0,332.9 L371.7,332.9 L374.5,332.9 L377.3,321.8 L380.0,321.6 L382.8,321.4 L385.6,311.1 L388.3,305.9 L391.1,305.9 L393.9,305.9 L396.6,305.9 L399.4,314.8 L402.2,314.8 L405.0,314.8 L407.7,314.8 L410.5,314.8 L413.3,314.8 L416.0,314.8 L418.8,330.2 L421.6,334.2 L424.3,334.2 L427.1,334.2 L429.9,334.2 L432.6,337.1 L435.4,337.1 L438.2,347.6 L440.9,347.6 L443.7,347.6 L446.5,353.5 L449.2,355.9 L452.0,357.2 L454.8,357.2 L457.5,357.2 L460.3,357.2 L463.1,357.2 L465.8,353.8 L468.6,353.8 L471.4,353.8 L474.1,353.8 L476.9,353.8 L479.7,353.8 L482.4,353.8 L485.2,353.8 L488.0,350.5 L490.7,370.5 L493.5,370.5 L496.3,370.5 L499.0,370.5 L501.8,371.9 L504.6,375.2 L507.3,380.4 L510.1,389.2 L512.9,389.2 L515.6,391.5 L518.4,391.5 L521.2,391.8 L523.9,393.1 L526.7,396.2 L529.5,396.2 L532.2,396.2 L535.0,380.6 L537.8,375.1 L540.5,375.1 L543.3,375.1 L546.1,375.1 L548.8,375.1 L551.6,375.1 L554.4,375.1 L557.1,375.1 L559.9,375.1 L562.7,375.1 L565.4,375.1 L568.2,375.1 L571.0,360.8 L573.7,359.2 L576.5,368.9 L579.3,368.9 L582.0,368.9 L584.8,368.9 L587.6,368.9 L590.3,368.9 L593.1,383.6 L595.9,383.6 L598.6,384.9 L601.4,389.9 L604.2,390.9 L606.9,390.9 L609.7,390.9 L612.5,390.9 L615.2,372.1 L618.0,367.8 L620.8,367.8 L623.5,367.8 L626.3,367.8 L629.1,367.8 L631.8,363.5 L634.6,359.2 L637.4,347.9 L640.1,338.2 L642.9,338.2 L645.7,316.5 L648.4,297.0 L651.2,289.6 L654.0,289.6 L656.7,289.6 L659.5,289.6 L662.3,289.6 L665.0,289.6 L667.8,289.6 L670.6,281.6 L673.4,281.6 L676.1,281.6 L678.9,281.6 L681.7,281.6 L684.4,281.6 L687.2,266.1 L690.0,266.1 L692.7,266.1 L695.5,265.6 L698.3,265.6 L701.0,270.8 L703.8,271.2 L706.6,276.1 L709.3,282.8 L712.1,282.8 L714.9,282.8 L717.6,288.6 L720.4,316.1 L723.2,318.3 L725.9,320.2 L728.7,323.6 L731.5,327.6 L734.2,331.5 L737.0,342.9 L739.8,330.5 L742.5,330.5 L745.3,322.0 L748.1,315.8 L750.8,315.8 L753.6,315.8 L756.4,315.8 L759.1,315.8 L761.9,315.8 L764.7,315.8 L767.4,315.8 L770.2,315.8 L773.0,315.8 L775.7,312.9 L778.5,300.3 L781.3,293.4 L784.0,291.0 L786.8,283.6 L789.6,280.9 L792.3,280.9 L795.1,264.5 L797.9,248.2 L800.6,248.2 L803.4,248.2 L806.2,248.2 L808.9,248.2 L811.7,248.2 L814.5,248.2 L817.2,248.2 L820.0,245.5 L822.8,245.5 L825.5,245.5 L828.3,245.5 L831.1,243.9 L833.8,243.9 L836.6,238.9 L839.4,231.1 L842.1,226.1 L844.9,226.1 L847.7,225.7 L850.4,225.7 L853.2,220.3 L856.0,207.0 L858.7,207.0 L861.5,207.0 L864.3,206.2 L867.0,205.2 L869.8,205.2 L872.6,203.6 L875.3,197.8 L878.1,194.9 L880.9,194.9 L883.6,199.8 L886.4,204.5 L889.2,204.5 L891.9,210.3 L894.7,212.3 L897.5,225.3 L900.2,225.3 L903.0,225.3 L905.8,225.3 L908.5,225.3 L911.3,238.7 L914.1,238.7 L916.8,238.7 L919.6,240.2 L922.4,240.2 L925.1,241.7 L927.9,244.1 L930.7,249.7 L933.4,261.9 L936.2,276.7 L939.0,284.5 L941.7,286.5 L944.5,290.1 L947.3,290.7 L950.1,291.9 L952.8,299.8 L955.6,299.8 L958.4,299.8 L961.1,299.3 L963.9,295.1 L966.7,295.1 L969.4,295.1 L972.2,295.1 L975.0,295.1 L977.7,295.1" fill="none" stroke="#ee9650" stroke-width="1.15" stroke-linejoin="round"/>
<path d="M120.0,-50.0 L122.7,-50.0 L125.5,-50.0 L128.3,-50.0 L131.0,-50.0 L133.8,-43.4 L136.6,-31.5 L139.3,-22.8 L142.1,-14.1 L144.9,-5.3 L147.6,1.3 L150.4,3.6 L153.2,8.4 L155.9,11.3 L158.7,13.7 L161.5,17.8 L164.2,22.1 L167.0,27.4 L169.8,30.2 L172.5,38.1 L175.3,42.5 L178.1,49.8 L180.8,56.9 L183.6,64.4 L186.4,72.4 L189.1,80.8 L191.9,92.9 L194.7,107.7 L197.4,120.1 L200.2,135.0 L203.0,155.3 L205.7,178.4 L208.5,188.3 L211.3,203.1 L214.0,213.8 L216.8,217.6 L219.6,215.3 L222.3,216.4 L225.1,217.9 L227.9,218.6 L230.6,227.7 L233.4,230.5 L236.2,234.3 L238.9,239.2 L241.7,244.2 L244.5,247.1 L247.2,244.7 L250.0,243.3 L252.8,241.1 L255.5,240.0 L258.3,238.0 L261.1,239.3 L263.8,241.0 L266.6,242.6 L269.4,239.9 L272.1,241.5 L274.9,243.9 L277.7,248.3 L280.4,253.2 L283.2,254.0 L286.0,256.3 L288.7,260.7 L291.5,264.5 L294.3,269.9 L297.0,276.2 L299.8,278.3 L302.6,280.2 L305.3,284.0 L308.1,287.2 L310.9,291.4 L313.6,292.1 L316.4,295.0 L319.2,299.8 L321.9,303.3 L324.7,307.8 L327.5,313.2 L330.2,314.4 L333.0,309.1 L335.8,307.1 L338.5,306.7 L341.3,305.6 L344.1,303.8 L346.8,297.5 L349.6,294.2 L352.4,292.3 L355.1,290.5 L357.9,288.4 L360.7,283.3 L363.4,281.0 L366.2,279.7 L369.0,282.1 L371.7,283.0 L374.5,285.4 L377.3,287.2 L380.0,288.1 L382.8,287.2 L385.6,290.0 L388.3,289.3 L391.1,290.4 L393.9,292.5 L396.6,295.1 L399.4,296.2 L402.2,297.2 L405.0,300.6 L407.7,302.6 L410.5,303.7 L413.3,305.1 L416.0,304.8 L418.8,307.6 L421.6,311.9 L424.3,314.8 L427.1,317.3 L429.9,320.2 L432.6,322.7 L435.4,323.0 L438.2,325.8 L440.9,325.6 L443.7,324.9 L446.5,324.7 L449.2,322.7 L452.0,320.9 L454.8,321.4 L457.5,321.9 L460.3,322.2 L463.1,321.1 L465.8,319.3 L468.6,318.9 L471.4,318.7 L474.1,319.2 L476.9,319.5 L479.7,319.5 L482.4,319.4 L485.2,320.6 L488.0,321.5 L490.7,321.7 L493.5,324.6 L496.3,327.3 L499.0,331.1 L501.8,336.3 L504.6,341.3 L507.3,347.4 L510.1,355.3 L512.9,363.3 L515.6,366.3 L518.4,369.1 L521.2,373.3 L523.9,370.0 L526.7,371.4 L529.5,371.9 L532.2,364.2 L535.0,353.6 L537.8,346.8 L540.5,342.7 L543.3,339.6 L546.1,336.5 L548.8,334.1 L551.6,331.7 L554.4,331.7 L557.1,331.0 L559.9,330.0 L562.7,329.8 L565.4,333.2 L568.2,336.9 L571.0,339.0 L573.7,342.6 L576.5,344.9 L579.3,351.4 L582.0,354.2 L584.8,351.4 L587.6,348.5 L590.3,343.2 L593.1,343.0 L595.9,343.6 L598.6,342.4 L601.4,343.2 L604.2,346.7 L606.9,344.8 L609.7,345.2 L612.5,345.5 L615.2,331.7 L618.0,326.8 L620.8,323.7 L623.5,321.6 L626.3,320.8 L629.1,319.7 L631.8,317.5 L634.6,314.5 L637.4,313.8 L640.1,313.4 L642.9,306.6 L645.7,295.9 L648.4,281.1 L651.2,269.2 L654.0,260.5 L656.7,255.3 L659.5,250.2 L662.3,242.6 L665.0,239.2 L667.8,238.8 L670.6,239.2 L673.4,238.6 L676.1,239.1 L678.9,241.3 L681.7,243.9 L684.4,250.2 L687.2,256.4 L690.0,262.2 L692.7,267.6 L695.5,272.5 L698.3,277.8 L701.0,283.2 L703.8,288.5 L706.6,293.7 L709.3,297.1 L712.1,299.3 L714.9,302.7 L717.6,305.6 L720.4,308.7 L723.2,308.8 L725.9,309.7 L728.7,310.3 L731.5,306.0 L734.2,303.3 L737.0,303.0 L739.8,297.1 L742.5,292.4 L745.3,288.0 L748.1,278.7 L750.8,274.6 L753.6,273.7 L756.4,274.2 L759.1,274.1 L761.9,275.1 L764.7,270.7 L767.4,267.6 L770.2,266.9 L773.0,267.4 L775.7,267.6 L778.5,265.5 L781.3,263.5 L784.0,262.4 L786.8,261.6 L789.6,256.8 L792.3,254.5 L795.1,249.4 L797.9,243.5 L800.6,242.3 L803.4,242.1 L806.2,242.2 L808.9,242.4 L811.7,243.7 L814.5,245.2 L817.2,246.3 L820.0,245.4 L822.8,244.7 L825.5,244.0 L828.3,242.2 L831.1,241.0 L833.8,239.8 L836.6,233.1 L839.4,225.1 L842.1,220.2 L844.9,216.0 L847.7,211.6 L850.4,206.4 L853.2,200.0 L856.0,193.9 L858.7,191.4 L861.5,189.0 L864.3,185.5 L867.0,182.2 L869.8,180.6 L872.6,177.5 L875.3,177.0 L878.1,177.6 L880.9,180.6 L883.6,186.1 L886.4,189.9 L889.2,195.2 L891.9,200.9 L894.7,207.5 L897.5,213.4 L900.2,216.1 L903.0,221.6 L905.8,223.4 L908.5,225.5 L911.3,227.6 L914.1,230.2 L916.8,233.0 L919.6,233.9 L922.4,236.3 L925.1,238.5 L927.9,240.6 L930.7,241.9 L933.4,243.7 L936.2,246.5 L939.0,248.8 L941.7,253.2 L944.5,258.2 L947.3,261.2 L950.1,265.9 L952.8,270.6 L955.6,273.9 L958.4,275.9 L961.1,268.2 L963.9,264.6 L966.7,262.0 L969.4,260.6 L972.2,259.9 L975.0,256.3 L977.7,255.7" fill="none" stroke="#3f62f3" stroke-width="1.15" stroke-linejoin="round"/>
<path d="M120.0,-0.6 L122.7,10.7 L125.5,17.2 L128.3,26.0 L131.0,32.9 L133.8,43.4 L136.6,50.5 L139.3,60.8 L142.1,74.0 L144.9,83.1 L147.6,87.6 L150.4,89.9 L153.2,90.6 L155.9,91.8 L158.7,93.2 L161.5,93.0 L164.2,95.0 L167.0,98.5 L169.8,115.5 L172.5,121.6 L175.3,125.3 L178.1,127.0 L180.8,129.8 L183.6,140.1 L186.4,149.5 L189.1,160.2 L191.9,174.5 L194.7,185.9 L197.4,199.3 L200.2,220.7 L203.0,243.1 L205.7,270.0 L208.5,299.0 L211.3,316.5 L214.0,326.7 L216.8,332.2 L219.6,333.1 L222.3,331.6 L225.1,328.0 L227.9,338.1 L230.6,340.0 L233.4,341.5 L236.2,340.6 L238.9,339.6 L241.7,338.1 L244.5,335.6 L247.2,332.4 L250.0,326.5 L252.8,322.2 L255.5,323.3 L258.3,319.8 L261.1,317.6 L263.8,322.4 L266.6,323.5 L269.4,322.2 L272.1,322.1 L274.9,322.6 L277.7,323.8 L280.4,325.8 L283.2,327.4 L286.0,329.3 L288.7,330.5 L291.5,333.4 L294.3,339.5 L297.0,343.1 L299.8,352.5 L302.6,356.3 L305.3,360.0 L308.1,361.1 L310.9,363.0 L313.6,363.2 L316.4,365.7 L319.2,372.1 L321.9,375.3 L324.7,376.5 L327.5,378.3 L330.2,378.8 L333.0,378.5 L335.8,374.2 L338.5,370.0 L341.3,364.9 L344.1,360.7 L346.8,355.7 L349.6,352.2 L352.4,347.5 L355.1,343.7 L357.9,340.0 L360.7,335.5 L363.4,331.9 L366.2,333.4 L369.0,335.7 L371.7,335.7 L374.5,336.5 L377.3,336.3 L380.0,335.8 L382.8,343.2 L385.6,344.4 L388.3,344.1 L391.1,344.2 L393.9,344.2 L396.6,345.5 L399.4,350.0 L402.2,352.1 L405.0,352.9 L407.7,353.9 L410.5,353.2 L413.3,355.9 L416.0,358.2 L418.8,364.7 L421.6,366.8 L424.3,367.6 L427.1,367.3 L429.9,370.0 L432.6,373.0 L435.4,374.4 L438.2,374.9 L440.9,374.2 L443.7,372.6 L446.5,373.3 L449.2,374.3 L452.0,373.3 L454.8,369.8 L457.5,368.9 L460.3,366.9 L463.1,364.7 L465.8,361.8 L468.6,359.6 L471.4,358.9 L474.1,357.3 L476.9,355.6 L479.7,353.8 L482.4,355.0 L485.2,356.0 L488.0,356.0 L490.7,369.0 L493.5,373.6 L496.3,376.1 L499.0,379.6 L501.8,387.7 L504.6,393.0 L507.3,401.3 L510.1,408.4 L512.9,413.4 L515.6,418.6 L518.4,421.0 L521.2,423.7 L523.9,426.6 L526.7,426.9 L529.5,425.8 L532.2,423.8 L535.0,417.9 L537.8,414.8 L540.5,408.8 L543.3,404.6 L546.1,400.1 L548.8,398.8 L551.6,396.7 L554.4,393.5 L557.1,390.4 L559.9,387.7 L562.7,392.0 L565.4,392.5 L568.2,395.6 L571.0,396.9 L573.7,397.2 L576.5,407.2 L579.3,411.9 L582.0,414.6 L584.8,415.3 L587.6,413.4 L590.3,411.8 L593.1,408.1 L595.9,406.1 L598.6,404.7 L601.4,405.9 L604.2,405.5 L606.9,404.6 L609.7,405.6 L612.5,405.0 L615.2,405.6 L618.0,400.0 L620.8,394.3 L623.5,390.0 L626.3,386.1 L629.1,388.0 L631.8,387.6 L634.6,384.9 L637.4,383.1 L640.1,382.1 L642.9,378.9 L645.7,373.3 L648.4,362.5 L651.2,350.0 L654.0,340.1 L656.7,330.7 L659.5,324.3 L662.3,317.8 L665.0,314.3 L667.8,311.9 L670.6,309.2 L673.4,306.8 L676.1,305.4 L678.9,304.5 L681.7,311.2 L684.4,315.0 L687.2,318.1 L690.0,320.5 L692.7,324.1 L695.5,326.2 L698.3,328.2 L701.0,333.0 L703.8,335.8 L706.6,339.1 L709.3,342.2 L712.1,344.7 L714.9,347.4 L717.6,349.2 L720.4,356.8 L723.2,360.6 L725.9,361.7 L728.7,361.7 L731.5,361.1 L734.2,359.0 L737.0,357.9 L739.8,357.5 L742.5,352.0 L745.3,346.4 L748.1,343.1 L750.8,342.0 L753.6,339.0 L756.4,336.3 L759.1,334.1 L761.9,333.2 L764.7,332.8 L767.4,329.5 L770.2,326.8 L773.0,326.6 L775.7,324.6 L778.5,322.4 L781.3,321.1 L784.0,318.2 L786.8,315.3 L789.6,312.8 L792.3,307.4 L795.1,302.8 L797.9,301.6 L800.6,299.6 L803.4,298.0 L806.2,295.6 L808.9,295.4 L811.7,293.5 L814.5,292.4 L817.2,290.9 L820.0,288.9 L822.8,286.7 L825.5,284.2 L828.3,281.2 L831.1,279.5 L833.8,277.9 L836.6,276.2 L839.4,273.4 L842.1,268.9 L844.9,264.1 L847.7,261.9 L850.4,257.6 L853.2,251.3 L856.0,248.5 L858.7,243.3 L861.5,240.0 L864.3,238.6 L867.0,234.5 L869.8,232.3 L872.6,229.3 L875.3,227.4 L878.1,228.6 L880.9,234.2 L883.6,238.8 L886.4,242.8 L889.2,246.2 L891.9,251.8 L894.7,256.6 L897.5,263.6 L900.2,268.3 L903.0,271.6 L905.8,273.7 L908.5,274.4 L911.3,276.9 L914.1,279.7 L916.8,281.6 L919.6,283.4 L922.4,282.8 L925.1,282.0 L927.9,281.6 L930.7,282.0 L933.4,282.8 L936.2,289.1 L939.0,293.1 L941.7,296.3 L944.5,301.3 L947.3,304.6 L950.1,309.4 L952.8,314.1 L955.6,318.4 L958.4,322.4 L961.1,326.8 L963.9,327.5 L966.7,324.7 L969.4,320.3 L972.2,317.7 L975.0,314.5 L977.7,310.7" fill="none" stroke="#3f62f3" stroke-width="1.15" stroke-linejoin="round"/>
<path d="M120.0,-50.0 L122.7,-40.5 L125.5,-30.0 L128.3,-18.9 L131.0,-10.1 L133.8,-0.0 L136.6,9.5 L139.3,19.0 L142.1,29.9 L144.9,38.9 L147.6,44.5 L150.4,46.7 L153.2,49.5 L155.9,51.6 L158.7,53.4 L161.5,55.4 L164.2,58.6 L167.0,63.0 L169.8,72.9 L172.5,79.8 L175.3,83.9 L178.1,88.4 L180.8,93.4 L183.6,102.2 L186.4,110.9 L189.1,120.5 L191.9,133.7 L194.7,146.8 L197.4,159.7 L200.2,177.8 L203.0,199.2 L205.7,224.2 L208.5,243.7 L211.3,259.8 L214.0,270.3 L216.8,274.9 L219.6,274.2 L222.3,274.0 L225.1,272.9 L227.9,278.4 L230.6,283.8 L233.4,286.0 L236.2,287.5 L238.9,289.4 L241.7,291.2 L244.5,291.4 L247.2,288.6 L250.0,284.9 L252.8,281.7 L255.5,281.6 L258.3,278.9 L261.1,278.5 L263.8,281.7 L266.6,283.1 L269.4,281.1 L272.1,281.8 L274.9,283.3 L277.7,286.1 L280.4,289.5 L283.2,290.7 L286.0,292.8 L288.7,295.6 L291.5,299.0 L294.3,304.7 L297.0,309.7 L299.8,315.4 L302.6,318.3 L305.3,322.0 L308.1,324.2 L310.9,327.2 L313.6,327.6 L316.4,330.4 L319.2,335.9 L321.9,339.3 L324.7,342.2 L327.5,345.8 L330.2,346.6 L333.0,343.8 L335.8,340.7 L338.5,338.3 L341.3,335.2 L344.1,332.3 L346.8,326.6 L349.6,323.2 L352.4,319.9 L355.1,317.1 L357.9,314.2 L360.7,309.4 L363.4,306.4 L366.2,306.6 L369.0,308.9 L371.7,309.4 L374.5,310.9 L377.3,311.8 L380.0,311.9 L382.8,315.2 L385.6,317.2 L388.3,316.7 L391.1,317.3 L393.9,318.3 L396.6,320.3 L399.4,323.1 L402.2,324.7 L405.0,326.8 L407.7,328.3 L410.5,328.5 L413.3,330.5 L416.0,331.5 L418.8,336.1 L421.6,339.3 L424.3,341.2 L427.1,342.3 L429.9,345.1 L432.6,347.8 L435.4,348.7 L438.2,350.3 L440.9,349.9 L443.7,348.8 L446.5,349.0 L449.2,348.5 L452.0,347.1 L454.8,345.6 L457.5,345.4 L460.3,344.6 L463.1,342.9 L465.8,340.5 L468.6,339.2 L471.4,338.8 L474.1,338.3 L476.9,337.6 L479.7,336.7 L482.4,337.2 L485.2,338.3 L488.0,338.7 L490.7,345.4 L493.5,349.1 L496.3,351.7 L499.0,355.4 L501.8,362.0 L504.6,367.1 L507.3,374.4 L510.1,381.8 L512.9,388.3 L515.6,392.5 L518.4,395.1 L521.2,398.5 L523.9,398.3 L526.7,399.1 L529.5,398.8 L532.2,394.0 L535.0,385.7 L537.8,380.8 L540.5,375.8 L543.3,372.1 L546.1,368.3 L548.8,366.4 L551.6,364.2 L554.4,362.6 L557.1,360.7 L559.9,358.8 L562.7,360.9 L565.4,362.9 L568.2,366.2 L571.0,368.0 L573.7,369.9 L576.5,376.1 L579.3,381.7 L582.0,384.4 L584.8,383.3 L587.6,381.0 L590.3,377.5 L593.1,375.6 L595.9,374.8 L598.6,373.6 L601.4,374.6 L604.2,376.1 L606.9,374.7 L609.7,375.4 L612.5,375.3 L615.2,368.7 L618.0,363.4 L620.8,359.0 L623.5,355.8 L626.3,353.4 L629.1,353.9 L631.8,352.5 L634.6,349.7 L637.4,348.4 L640.1,347.8 L642.9,342.7 L645.7,334.6 L648.4,321.8 L651.2,309.6 L654.0,300.3 L656.7,293.0 L659.5,287.3 L662.3,280.2 L665.0,276.7 L667.8,275.4 L670.6,274.2 L673.4,272.7 L676.1,272.3 L678.9,272.9 L681.7,277.5 L684.4,282.6 L687.2,287.3 L690.0,291.3 L692.7,295.8 L695.5,299.4 L698.3,303.0 L701.0,308.1 L703.8,312.2 L706.6,316.4 L709.3,319.6 L712.1,322.0 L714.9,325.0 L717.6,327.4 L720.4,332.7 L723.2,334.7 L725.9,335.7 L728.7,336.0 L731.5,333.5 L734.2,331.2 L737.0,330.4 L739.8,327.3 L742.5,322.2 L745.3,317.2 L748.1,310.9 L750.8,308.3 L753.6,306.4 L756.4,305.3 L759.1,304.1 L761.9,304.2 L764.7,301.8 L767.4,298.5 L770.2,296.8 L773.0,297.0 L775.7,296.1 L778.5,294.0 L781.3,292.3 L784.0,290.3 L786.8,288.4 L789.6,284.8 L792.3,281.0 L795.1,276.1 L797.9,272.5 L800.6,270.9 L803.4,270.1 L806.2,268.9 L808.9,268.9 L811.7,268.6 L814.5,268.8 L817.2,268.6 L820.0,267.2 L822.8,265.7 L825.5,264.1 L828.3,261.7 L831.1,260.2 L833.8,258.8 L836.6,254.7 L839.4,249.2 L842.1,244.6 L844.9,240.1 L847.7,236.7 L850.4,232.0 L853.2,225.7 L856.0,221.2 L858.7,217.4 L861.5,214.5 L864.3,212.1 L867.0,208.4 L869.8,206.4 L872.6,203.4 L875.3,202.2 L878.1,203.1 L880.9,207.4 L883.6,212.4 L886.4,216.4 L889.2,220.7 L891.9,226.3 L894.7,232.0 L897.5,238.5 L900.2,242.2 L903.0,246.6 L905.8,248.5 L908.5,249.9 L911.3,252.3 L914.1,254.9 L916.8,257.3 L919.6,258.7 L922.4,259.5 L925.1,260.3 L927.9,261.1 L930.7,262.0 L933.4,263.3 L936.2,267.8 L939.0,271.0 L941.7,274.8 L944.5,279.8 L947.3,282.9 L950.1,287.7 L952.8,292.4 L955.6,296.2 L958.4,299.1 L961.1,297.5 L963.9,296.0 L966.7,293.4 L969.4,290.5 L972.2,288.8 L975.0,285.4 L977.7,283.2" fill="none" stroke="#3f62f3" stroke-width="1.7" stroke-linejoin="round"/>
<rect x="122.0" y="0" width="762.0" height="530.6" fill="rgba(230,145,20,0.2)"/>
<rect x="122.0" y="136.7" width="762.0" height="1.2" fill="#ee943f"/>
<rect x="122.0" y="220.9" width="762.0" height="1.2" fill="#ee943f"/>
<rect x="122.0" y="286.9" width="762.0" height="1.2" fill="#ee943f"/>
<rect x="122.0" y="333.3" width="762.0" height="1.2" fill="#ee943f"/>
<rect x="122.0" y="379.7" width="762.0" height="1.2" fill="#ee943f"/>
<rect x="122.0" y="437.1" width="762.0" height="1.2" fill="#ee943f"/>
<rect x="122.0" y="529.9" width="762.0" height="1.2" fill="#ee943f"/>
<text x="891.2" y="142.0" font-family="Liberation Sans, sans-serif" font-size="13px" letter-spacing="0.35" fill="#f2a444">1 (76,026)</text>
<text x="891.2" y="226.2" font-family="Liberation Sans, sans-serif" font-size="13px" letter-spacing="0.35" fill="#f2a444">0.786 (72,587)</text>
<text x="891.2" y="292.2" font-family="Liberation Sans, sans-serif" font-size="13px" letter-spacing="0.35" fill="#f2a444">0.618 (69,888)</text>
<text x="891.2" y="338.6" font-family="Liberation Sans, sans-serif" font-size="13px" letter-spacing="0.35" fill="#f2a444">0.5 (67,992)</text>
<text x="891.2" y="385.0" font-family="Liberation Sans, sans-serif" font-size="13px" letter-spacing="0.35" fill="#f2a444">0.382 (66,096)</text>
<text x="891.2" y="442.4" font-family="Liberation Sans, sans-serif" font-size="13px" letter-spacing="0.35" fill="#f2a444">0.236 (63,750)</text>
<text x="891.2" y="535.2" font-family="Liberation Sans, sans-serif" font-size="13px" letter-spacing="0.35" fill="#f2a444">0 (59,958)</text>
<path d="M120.0,-50.0 L122.7,-50.0 L125.5,-50.0 L128.3,-50.0 L131.0,-50.0 L133.8,-50.0 L136.6,-50.0 L139.3,-50.0 L142.1,-50.0 L144.9,-50.0 L147.6,-50.0 L150.4,-50.0 L153.2,-50.0 L155.9,-50.0 L158.7,-50.0 L161.5,-50.0 L164.2,-50.0 L167.0,-50.0 L169.8,-50.0 L172.5,-50.0 L175.3,-50.0 L178.1,-50.0 L180.8,-50.0 L183.6,-50.0 L186.4,-50.0 L189.1,-50.0 L191.9,-50.0 L194.7,-50.0 L197.4,-50.0 L200.2,-50.0 L203.0,-50.0 L205.7,-50.0 L208.5,-50.0 L211.3,-50.0 L214.0,-50.0 L216.8,-50.0 L219.6,-50.0 L222.3,-50.0 L225.1,-50.0 L227.9,-50.0 L230.6,-50.0 L233.4,-50.0 L236.2,-50.0 L238.9,-49.6 L241.7,-46.0 L244.5,-42.7 L247.2,-39.6 L250.0,-36.8 L252.8,-33.9 L255.5,-30.8 L258.3,-27.9 L261.1,-24.9 L263.8,-21.6 L266.6,-18.4 L269.4,-15.6 L272.1,-12.6 L274.9,-9.5 L277.7,-6.3 L280.4,-3.0 L283.2,-0.0 L286.0,3.1 L288.7,6.3 L291.5,9.5 L294.3,13.0 L297.0,16.4 L299.8,19.9 L302.6,23.2 L305.3,26.5 L308.1,29.7 L310.9,32.9 L313.6,35.9 L316.4,39.1 L319.2,42.6 L321.9,45.8 L324.7,49.0 L327.5,52.3 L330.2,55.3 L333.0,57.9 L335.8,60.5 L338.5,63.0 L341.3,65.4 L344.1,67.8 L346.8,69.8 L349.6,72.0 L352.4,74.2 L355.1,76.3 L357.9,78.4 L360.7,80.3 L363.4,82.3 L366.2,84.5 L369.0,87.0 L371.7,89.2 L374.5,91.6 L377.3,93.8 L380.0,96.0 L382.8,98.5 L385.6,100.9 L388.3,103.0 L391.1,105.2 L393.9,107.4 L396.6,109.7 L399.4,112.1 L402.2,114.3 L405.0,116.6 L407.7,118.9 L410.5,121.0 L413.3,123.3 L416.0,125.4 L418.8,128.0 L421.6,130.4 L424.3,132.7 L427.1,134.9 L429.9,137.2 L432.6,139.6 L435.4,141.7 L438.2,144.0 L440.9,146.0 L443.7,147.9 L446.5,149.9 L449.2,151.8 L452.0,153.6 L454.8,155.4 L457.5,157.3 L460.3,159.1 L463.1,160.7 L465.8,162.3 L468.6,163.9 L471.4,165.6 L474.1,167.3 L476.9,168.9 L479.7,170.5 L482.4,172.2 L485.2,174.0 L488.0,175.7 L490.7,178.0 L493.5,180.0 L496.3,182.0 L499.0,184.1 L501.8,186.5 L504.6,188.7 L507.3,191.3 L510.1,193.9 L512.9,196.4 L515.6,198.8 L518.4,201.0 L521.2,203.2 L523.9,205.2 L526.7,207.2 L529.5,209.1 L532.2,210.4 L535.0,211.4 L537.8,212.6 L540.5,213.8 L543.3,215.0 L546.1,216.2 L548.8,217.5 L551.6,218.7 L554.4,220.0 L557.1,221.2 L559.9,222.4 L562.7,224.0 L565.4,225.6 L568.2,227.3 L571.0,228.8 L573.7,230.4 L576.5,232.5 L579.3,234.5 L582.0,236.2 L584.8,237.6 L587.6,238.8 L590.3,239.9 L593.1,241.0 L595.9,242.3 L598.6,243.5 L601.4,244.9 L604.2,246.3 L606.9,247.5 L609.7,248.8 L612.5,250.0 L615.2,250.6 L618.0,251.2 L620.8,251.9 L623.5,252.6 L626.3,253.4 L629.1,254.4 L631.8,255.3 L634.6,256.0 L637.4,256.8 L640.1,257.6 L642.9,258.0 L645.7,258.0 L648.4,257.4 L651.2,256.8 L654.0,256.3 L656.7,256.0 L659.5,255.8 L662.3,255.3 L665.0,255.2 L667.8,255.3 L670.6,255.4 L673.4,255.4 L676.1,255.5 L678.9,255.8 L681.7,256.4 L684.4,257.1 L687.2,257.9 L690.0,258.6 L692.7,259.4 L695.5,260.1 L698.3,260.9 L701.0,261.9 L703.8,262.7 L706.6,263.7 L709.3,264.5 L712.1,265.3 L714.9,266.2 L717.6,267.0 L720.4,268.2 L723.2,269.1 L725.9,269.8 L728.7,270.5 L731.5,270.9 L734.2,271.3 L737.0,271.8 L739.8,272.0 L742.5,272.1 L745.3,272.0 L748.1,271.8 L750.8,271.9 L753.6,272.1 L756.4,272.3 L759.1,272.5 L761.9,272.9 L764.7,272.9 L767.4,272.9 L770.2,272.9 L773.0,273.2 L775.7,273.3 L778.5,273.3 L781.3,273.4 L784.0,273.4 L786.8,273.3 L789.6,273.1 L792.3,272.8 L795.1,272.4 L797.9,272.1 L800.6,271.9 L803.4,271.8 L806.2,271.7 L808.9,271.6 L811.7,271.6 L814.5,271.6 L817.2,271.5 L820.0,271.3 L822.8,271.1 L825.5,270.9 L828.3,270.6 L831.1,270.4 L833.8,270.1 L836.6,269.6 L839.4,268.8 L842.1,268.2 L844.9,267.5 L847.7,266.8 L850.4,266.0 L853.2,265.0 L856.0,264.2 L858.7,263.4 L861.5,262.6 L864.3,261.9 L867.0,261.0 L869.8,260.3 L872.6,259.4 L875.3,258.7 L878.1,258.3 L880.9,258.2 L883.6,258.2 L886.4,258.1 L889.2,258.2 L891.9,258.4 L894.7,258.7 L897.5,259.1 L900.2,259.3 L903.0,259.5 L905.8,259.6 L908.5,259.6 L911.3,259.8 L914.1,260.0 L916.8,260.2 L919.6,260.3 L922.4,260.4 L925.1,260.5 L927.9,260.5 L930.7,260.6 L933.4,260.8 L936.2,261.3 L939.0,261.7 L941.7,262.2 L944.5,262.8 L947.3,263.3 L950.1,264.0 L952.8,264.7 L955.6,265.4 L958.4,266.0 L961.1,266.2 L963.9,266.3 L966.7,266.4 L969.4,266.3 L972.2,266.4 L975.0,266.3 L977.7,266.2" fill="none" stroke="#3f63ee" stroke-width="1.05" stroke-linejoin="round"/>
<path d="M120.0,-50.0 L122.7,-50.0 L125.5,-50.0 L128.3,-50.0 L131.0,-50.0 L133.8,-50.0 L136.6,-50.0 L139.3,-50.0 L142.1,-50.0 L144.9,-50.0 L147.6,-50.0 L150.4,-50.0 L153.2,-50.0 L155.9,-50.0 L158.7,-50.0 L161.5,-50.0 L164.2,-50.0 L167.0,-50.0 L169.8,-50.0 L172.5,-50.0 L175.3,-50.0 L178.1,-50.0 L180.8,-50.0 L183.6,-50.0 L186.4,-50.0 L189.1,-50.0 L191.9,-47.0 L194.7,-40.7 L197.4,-34.3 L200.2,-26.7 L203.0,-18.2 L205.7,-8.7 L208.5,0.0 L211.3,8.2 L214.0,15.3 L216.8,21.4 L219.6,26.2 L222.3,31.1 L225.1,35.7 L227.9,41.5 L230.6,47.3 L233.4,52.5 L236.2,57.4 L238.9,62.4 L241.7,67.2 L244.5,71.7 L247.2,75.5 L250.0,78.9 L252.8,82.3 L255.5,86.3 L258.3,89.6 L261.1,93.2 L263.8,97.6 L266.6,101.5 L269.4,104.7 L272.1,108.3 L274.9,112.1 L277.7,116.0 L280.4,120.1 L283.2,123.7 L286.0,127.5 L288.7,131.3 L291.5,135.3 L294.3,139.7 L297.0,144.0 L299.8,148.5 L302.6,152.4 L305.3,156.4 L308.1,160.2 L310.9,164.0 L313.6,167.4 L316.4,171.1 L319.2,175.4 L321.9,179.3 L324.7,183.1 L327.5,187.0 L330.2,190.3 L333.0,192.8 L335.8,195.1 L338.5,197.5 L341.3,199.7 L344.1,201.7 L346.8,203.1 L349.6,204.9 L352.4,206.5 L355.1,208.2 L357.9,209.7 L360.7,210.8 L363.4,212.2 L366.2,214.1 L369.0,216.4 L371.7,218.3 L374.5,220.4 L377.3,222.4 L380.0,224.2 L382.8,226.6 L385.6,228.8 L388.3,230.4 L391.1,232.3 L393.9,234.2 L396.6,236.2 L399.4,238.5 L402.2,240.5 L405.0,242.6 L407.7,244.6 L410.5,246.3 L413.3,248.3 L416.0,250.2 L418.8,252.7 L421.6,255.0 L424.3,257.1 L427.1,259.0 L429.9,261.2 L432.6,263.5 L435.4,265.3 L438.2,267.3 L440.9,268.9 L443.7,270.2 L446.5,271.8 L449.2,273.3 L452.0,274.4 L454.8,275.6 L457.5,276.9 L460.3,278.1 L463.1,279.1 L465.8,279.8 L468.6,280.8 L471.4,281.9 L474.1,282.9 L476.9,283.8 L479.7,284.7 L482.4,285.8 L485.2,287.1 L488.0,288.2 L490.7,290.6 L493.5,292.4 L496.3,294.1 L499.0,296.0 L501.8,298.5 L504.6,300.9 L507.3,303.7 L510.1,306.6 L512.9,309.5 L515.6,311.9 L518.4,314.0 L521.2,316.4 L523.9,317.9 L526.7,319.7 L529.5,321.2 L532.2,321.7 L535.0,321.5 L537.8,321.7 L540.5,321.8 L543.3,322.1 L546.1,322.3 L548.8,322.9 L551.6,323.3 L554.4,323.7 L557.1,324.1 L559.9,324.4 L562.7,325.5 L565.4,326.7 L568.2,328.1 L571.0,329.2 L573.7,330.4 L576.5,332.4 L579.3,334.5 L582.0,336.0 L584.8,336.7 L587.6,337.1 L590.3,337.3 L593.1,337.7 L595.9,338.3 L598.6,338.7 L601.4,339.6 L604.2,340.6 L606.9,341.0 L609.7,341.9 L612.5,342.5 L615.2,341.8 L618.0,341.2 L620.8,340.7 L623.5,340.4 L626.3,340.2 L629.1,340.6 L631.8,340.6 L634.6,340.2 L637.4,340.2 L640.1,340.2 L642.9,339.3 L645.7,337.7 L648.4,334.9 L651.2,332.1 L654.0,329.8 L656.7,327.7 L659.5,325.8 L662.3,323.5 L665.0,322.0 L667.8,320.8 L670.6,319.7 L673.4,318.4 L676.1,317.4 L678.9,316.7 L681.7,316.8 L684.4,317.0 L687.2,317.3 L690.0,317.6 L692.7,318.0 L695.5,318.3 L698.3,318.7 L701.0,319.4 L703.8,320.1 L706.6,320.8 L709.3,321.4 L712.1,321.8 L714.9,322.5 L717.6,323.0 L720.4,324.2 L723.2,324.8 L725.9,325.2 L728.7,325.4 L731.5,325.1 L734.2,324.8 L737.0,324.8 L739.8,324.2 L742.5,323.3 L745.3,322.2 L748.1,320.8 L750.8,320.0 L753.6,319.4 L756.4,318.9 L759.1,318.4 L761.9,318.1 L764.7,317.4 L767.4,316.4 L770.2,315.7 L773.0,315.3 L775.7,314.8 L778.5,314.0 L781.3,313.2 L784.0,312.4 L786.8,311.6 L789.6,310.4 L792.3,309.1 L795.1,307.5 L797.9,306.1 L800.6,305.1 L803.4,304.3 L806.2,303.4 L808.9,302.7 L811.7,301.9 L814.5,301.3 L817.2,300.6 L820.0,299.7 L822.8,298.8 L825.5,297.8 L828.3,296.6 L831.1,295.6 L833.8,294.6 L836.6,293.0 L839.4,291.1 L842.1,289.3 L844.9,287.5 L847.7,285.9 L850.4,283.9 L853.2,281.6 L856.0,279.6 L858.7,277.6 L861.5,275.8 L864.3,274.1 L867.0,272.1 L869.8,270.4 L872.6,268.5 L875.3,267.0 L878.1,265.9 L880.9,265.6 L883.6,265.4 L886.4,265.2 L889.2,265.1 L891.9,265.4 L894.7,265.8 L897.5,266.5 L900.2,266.7 L903.0,267.2 L905.8,267.2 L908.5,267.1 L911.3,267.2 L914.1,267.5 L916.8,267.7 L919.6,267.8 L922.4,267.8 L925.1,267.8 L927.9,267.8 L930.7,267.9 L933.4,268.0 L936.2,268.9 L939.0,269.5 L941.7,270.3 L944.5,271.5 L947.3,272.3 L950.1,273.5 L952.8,274.7 L955.6,275.9 L958.4,276.9 L961.1,277.0 L963.9,277.1 L966.7,276.9 L969.4,276.6 L972.2,276.6 L975.0,276.1 L977.7,275.8" fill="none" stroke="#86e9ee" stroke-width="1.15" stroke-linejoin="round"/>
<path d="M120.0,-50.0 L122.7,-50.0 L125.5,-50.0 L128.3,-50.0 L131.0,-50.0 L133.8,-50.0 L136.6,-50.0 L139.3,-50.0 L142.1,-50.0 L144.9,-48.8 L147.6,-43.1 L150.4,-38.7 L153.2,-34.2 L155.9,-30.1 L158.7,-26.1 L161.5,-22.2 L164.2,-17.8 L167.0,-13.0 L169.8,-6.0 L172.5,0.0 L175.3,4.8 L178.1,9.8 L180.8,14.9 L183.6,21.6 L186.4,28.4 L189.1,35.5 L191.9,44.3 L194.7,53.2 L197.4,62.2 L200.2,73.5 L203.0,86.4 L205.7,101.1 L208.5,113.9 L211.3,125.7 L214.0,135.2 L216.8,142.4 L219.6,147.3 L222.3,152.2 L225.1,156.6 L227.9,163.4 L230.6,170.1 L233.4,175.5 L236.2,180.4 L238.9,185.4 L241.7,190.2 L244.5,194.3 L247.2,196.9 L250.0,199.0 L252.8,201.0 L255.5,204.2 L258.3,206.1 L261.1,208.8 L263.8,212.8 L266.6,216.1 L269.4,217.9 L272.1,220.7 L274.9,223.7 L277.7,227.2 L280.4,230.9 L283.2,233.7 L286.0,236.8 L288.7,240.1 L291.5,243.7 L294.3,248.2 L297.0,252.5 L299.8,257.1 L302.6,260.6 L305.3,264.3 L308.1,267.5 L310.9,271.0 L313.6,273.4 L316.4,276.6 L319.2,281.0 L321.9,284.6 L324.7,287.9 L327.5,291.5 L330.2,294.0 L333.0,294.9 L335.8,295.5 L338.5,296.3 L341.3,296.7 L344.1,297.0 L346.8,296.0 L349.6,295.8 L352.4,295.5 L355.1,295.3 L357.9,295.0 L360.7,293.8 L363.4,293.2 L366.2,293.7 L369.0,295.2 L371.7,295.9 L374.5,297.1 L377.3,298.0 L380.0,298.6 L382.8,300.5 L385.6,301.9 L388.3,302.3 L391.1,303.1 L393.9,304.1 L396.6,305.4 L399.4,307.2 L402.2,308.4 L405.0,309.9 L407.7,311.2 L410.5,312.0 L413.3,313.4 L416.0,314.5 L418.8,317.1 L421.6,319.2 L424.3,320.7 L427.1,322.0 L429.9,323.9 L432.6,325.9 L435.4,327.1 L438.2,328.6 L440.9,329.3 L443.7,329.6 L446.5,330.5 L449.2,331.0 L452.0,331.1 L454.8,331.1 L457.5,331.6 L460.3,331.8 L463.1,331.6 L465.8,331.1 L468.6,330.9 L471.4,331.1 L474.1,331.2 L476.9,331.1 L479.7,331.0 L482.4,331.5 L485.2,332.1 L488.0,332.6 L490.7,335.5 L493.5,337.4 L496.3,339.0 L499.0,341.0 L501.8,344.3 L504.6,347.1 L507.3,350.9 L510.1,354.9 L512.9,358.6 L515.6,361.5 L518.4,363.8 L521.2,366.4 L523.9,367.6 L526.7,369.1 L529.5,370.2 L532.2,369.3 L535.0,366.9 L537.8,365.6 L540.5,364.1 L543.3,363.0 L546.1,361.8 L548.8,361.3 L551.6,360.6 L554.4,360.1 L557.1,359.4 L559.9,358.7 L562.7,359.5 L565.4,360.4 L568.2,361.9 L571.0,362.8 L573.7,363.8 L576.5,366.6 L579.3,369.2 L582.0,370.9 L584.8,370.9 L587.6,370.4 L590.3,369.4 L593.1,368.9 L595.9,368.9 L598.6,368.6 L601.4,369.2 L604.2,370.1 L606.9,369.7 L609.7,370.2 L612.5,370.4 L615.2,367.8 L618.0,365.7 L620.8,363.8 L623.5,362.3 L626.3,361.1 L629.1,360.9 L631.8,360.1 L634.6,358.7 L637.4,357.8 L640.1,357.1 L642.9,354.7 L645.7,350.9 L648.4,345.0 L651.2,339.0 L654.0,334.0 L656.7,329.7 L659.5,325.9 L662.3,321.5 L665.0,318.4 L667.8,316.3 L670.6,314.2 L673.4,312.0 L676.1,310.3 L678.9,309.0 L681.7,309.5 L684.4,310.4 L687.2,311.2 L690.0,311.9 L692.7,313.0 L695.5,313.7 L698.3,314.7 L701.0,316.3 L703.8,317.7 L706.6,319.2 L709.3,320.4 L712.1,321.4 L714.9,322.6 L717.6,323.7 L720.4,326.1 L723.2,327.1 L725.9,327.8 L728.7,328.3 L731.5,327.6 L734.2,326.8 L737.0,326.7 L739.8,325.5 L742.5,323.5 L745.3,321.4 L748.1,318.6 L750.8,317.3 L753.6,316.1 L756.4,315.3 L759.1,314.4 L761.9,314.0 L764.7,312.7 L767.4,310.9 L770.2,309.7 L773.0,309.3 L775.7,308.4 L778.5,307.1 L781.3,305.9 L784.0,304.5 L786.8,303.2 L789.6,301.1 L792.3,298.9 L795.1,296.2 L797.9,293.9 L800.6,292.4 L803.4,291.2 L806.2,289.9 L808.9,289.1 L811.7,288.2 L814.5,287.5 L817.2,286.7 L820.0,285.4 L822.8,284.1 L825.5,282.7 L828.3,281.0 L831.1,279.6 L833.8,278.3 L836.6,275.8 L839.4,272.7 L842.1,269.9 L844.9,267.0 L847.7,264.6 L850.4,261.6 L853.2,257.8 L856.0,254.7 L858.7,251.8 L861.5,249.3 L864.3,246.9 L867.0,244.0 L869.8,241.8 L872.6,239.2 L875.3,237.3 L878.1,236.3 L880.9,236.8 L883.6,237.7 L886.4,238.3 L889.2,239.2 L891.9,240.8 L894.7,242.6 L897.5,244.8 L900.2,246.1 L903.0,247.8 L905.8,248.5 L908.5,249.1 L911.3,250.1 L914.1,251.3 L916.8,252.4 L919.6,253.2 L922.4,253.7 L925.1,254.3 L927.9,254.8 L930.7,255.4 L933.4,256.2 L936.2,258.4 L939.0,260.0 L941.7,262.0 L944.5,264.6 L947.3,266.5 L950.1,269.1 L952.8,271.8 L955.6,274.1 L958.4,276.2 L961.1,276.4 L963.9,276.7 L966.7,276.3 L969.4,275.8 L972.2,275.7 L975.0,274.8 L977.7,274.3" fill="none" stroke="#ec8b40" stroke-width="1.15" stroke-linejoin="round"/>
<path d="M120.0,-50.0 L122.7,-40.5 L125.5,-30.0 L128.3,-18.9 L131.0,-10.1 L133.8,-0.0 L136.6,9.5 L139.3,19.0 L142.1,29.9 L144.9,38.9 L147.6,44.5 L150.4,46.7 L153.2,49.5 L155.9,51.6 L158.7,53.4 L161.5,55.4 L164.2,58.6 L167.0,63.0 L169.8,72.9 L172.5,79.8 L175.3,83.9 L178.1,88.4 L180.8,93.4 L183.6,102.2 L186.4,110.9 L189.1,120.5 L191.9,133.7 L194.7,146.8 L197.4,159.7 L200.2,177.8 L203.0,199.2 L205.7,224.2 L208.5,243.7 L211.3,259.8 L214.0,270.3 L216.8,274.9 L219.6,274.2 L222.3,274.0 L225.1,272.9 L227.9,278.4 L230.6,283.8 L233.4,286.0 L236.2,287.5 L238.9,289.4 L241.7,291.2 L244.5,291.4 L247.2,288.6 L250.0,284.9 L252.8,281.7 L255.5,281.6 L258.3,278.9 L261.1,278.5 L263.8,281.7 L266.6,283.1 L269.4,281.1 L272.1,281.8 L274.9,283.3 L277.7,286.1 L280.4,289.5 L283.2,290.7 L286.0,292.8 L288.7,295.6 L291.5,299.0 L294.3,304.7 L297.0,309.7 L299.8,315.4 L302.6,318.3 L305.3,322.0 L308.1,324.2 L310.9,327.2 L313.6,327.6 L316.4,330.4 L319.2,335.9 L321.9,339.3 L324.7,342.2 L327.5,345.8 L330.2,346.6 L333.0,343.8 L335.8,340.7 L338.5,338.3 L341.3,335.2 L344.1,332.3 L346.8,326.6 L349.6,323.2 L352.4,319.9 L355.1,317.1 L357.9,314.2 L360.7,309.4 L363.4,306.4 L366.2,306.6 L369.0,308.9 L371.7,309.4 L374.5,310.9 L377.3,311.8 L380.0,311.9 L382.8,315.2 L385.6,317.2 L388.3,316.7 L391.1,317.3 L393.9,318.3 L396.6,320.3 L399.4,323.1 L402.2,324.7 L405.0,326.8 L407.7,328.3 L410.5,328.5 L413.3,330.5 L416.0,331.5 L418.8,336.1 L421.6,339.3 L424.3,341.2 L427.1,342.3 L429.9,345.1 L432.6,347.8 L435.4,348.7 L438.2,350.3 L440.9,349.9 L443.7,348.8 L446.5,349.0 L449.2,348.5 L452.0,347.1 L454.8,345.6 L457.5,345.4 L460.3,344.6 L463.1,342.9 L465.8,340.5 L468.6,339.2 L471.4,338.8 L474.1,338.3 L476.9,337.6 L479.7,336.7 L482.4,337.2 L485.2,338.3 L488.0,338.7 L490.7,345.4 L493.5,349.1 L496.3,351.7 L499.0,355.4 L501.8,362.0 L504.6,367.1 L507.3,374.4 L510.1,381.8 L512.9,388.3 L515.6,392.5 L518.4,395.1 L521.2,398.5 L523.9,398.3 L526.7,399.1 L529.5,398.8 L532.2,394.0 L535.0,385.7 L537.8,380.8 L540.5,375.8 L543.3,372.1 L546.1,368.3 L548.8,366.4 L551.6,364.2 L554.4,362.6 L557.1,360.7 L559.9,358.8 L562.7,360.9 L565.4,362.9 L568.2,366.2 L571.0,368.0 L573.7,369.9 L576.5,376.1 L579.3,381.7 L582.0,384.4 L584.8,383.3 L587.6,381.0 L590.3,377.5 L593.1,375.6 L595.9,374.8 L598.6,373.6 L601.4,374.6 L604.2,376.1 L606.9,374.7 L609.7,375.4 L612.5,375.3 L615.2,368.7 L618.0,363.4 L620.8,359.0 L623.5,355.8 L626.3,353.4 L629.1,353.9 L631.8,352.5 L634.6,349.7 L637.4,348.4 L640.1,347.8 L642.9,342.7 L645.7,334.6 L648.4,321.8 L651.2,309.6 L654.0,300.3 L656.7,293.0 L659.5,287.3 L662.3,280.2 L665.0,276.7 L667.8,275.4 L670.6,274.2 L673.4,272.7 L676.1,272.3 L678.9,272.9 L681.7,277.5 L684.4,282.6 L687.2,287.3 L690.0,291.3 L692.7,295.8 L695.5,299.4 L698.3,303.0 L701.0,308.1 L703.8,312.2 L706.6,316.4 L709.3,319.6 L712.1,322.0 L714.9,325.0 L717.6,327.4 L720.4,332.7 L723.2,334.7 L725.9,335.7 L728.7,336.0 L731.5,333.5 L734.2,331.2 L737.0,330.4 L739.8,327.3 L742.5,322.2 L745.3,317.2 L748.1,310.9 L750.8,308.3 L753.6,306.4 L756.4,305.3 L759.1,304.1 L761.9,304.2 L764.7,301.8 L767.4,298.5 L770.2,296.8 L773.0,297.0 L775.7,296.1 L778.5,294.0 L781.3,292.3 L784.0,290.3 L786.8,288.4 L789.6,284.8 L792.3,281.0 L795.1,276.1 L797.9,272.5 L800.6,270.9 L803.4,270.1 L806.2,268.9 L808.9,268.9 L811.7,268.6 L814.5,268.8 L817.2,268.6 L820.0,267.2 L822.8,265.7 L825.5,264.1 L828.3,261.7 L831.1,260.2 L833.8,258.8 L836.6,254.7 L839.4,249.2 L842.1,244.6 L844.9,240.1 L847.7,236.7 L850.4,232.0 L853.2,225.7 L856.0,221.2 L858.7,217.4 L861.5,214.5 L864.3,212.1 L867.0,208.4 L869.8,206.4 L872.6,203.4 L875.3,202.2 L878.1,203.1 L880.9,207.4 L883.6,212.4 L886.4,216.4 L889.2,220.7 L891.9,226.3 L894.7,232.0 L897.5,238.5 L900.2,242.2 L903.0,246.6 L905.8,248.5 L908.5,249.9 L911.3,252.3 L914.1,254.9 L916.8,257.3 L919.6,258.7 L922.4,259.5 L925.1,260.3 L927.9,261.1 L930.7,262.0 L933.4,263.3 L936.2,267.8 L939.0,271.0 L941.7,274.8 L944.5,279.8 L947.3,282.9 L950.1,287.7 L952.8,292.4 L955.6,296.2 L958.4,299.1 L961.1,297.5 L963.9,296.0 L966.7,293.4 L969.4,290.5 L972.2,288.8 L975.0,285.4 L977.7,283.2" fill="none" stroke="#d4453f" stroke-width="1.15" stroke-linejoin="round"/>
<line x1="1.9" y1="262.5" x2="1061" y2="262.5" stroke="#4fb9d2" stroke-width="1" stroke-dasharray="1,2"/>
<rect x="119.45" y="-60.0" width="1" height="208.5" fill="#58c4dc"/><rect x="122.22" y="65.0" width="1" height="48.5" fill="#060606"/><rect x="124.98" y="65.0" width="1" height="9.0" fill="#060606"/><rect x="127.75" y="70.0" width="1" height="22.0" fill="#58c4dc"/><rect x="130.52" y="65.0" width="1" height="25.4" fill="#060606"/><rect x="133.28" y="72.0" width="1" height="47.8" fill="#58c4dc"/><rect x="136.05" y="93.8" width="1" height="18.2" fill="#58c4dc"/><rect x="138.82" y="96.6" width="1" height="48.8" fill="#58c4dc"/><rect x="141.59" y="107.4" width="1" height="65.9" fill="#58c4dc"/><rect x="144.35" y="120.0" width="1" height="45.6" fill="#060606"/><rect x="147.12" y="92.5" width="1" height="32.9" fill="#060606"/><rect x="149.89" y="56.5" width="1" height="43.1" fill="#060606"/><rect x="152.65" y="65.1" width="1" height="21.9" fill="#58c4dc"/><rect x="155.42" y="60.0" width="1" height="32.0" fill="#060606"/><rect x="158.19" y="63.0" width="1" height="35.0" fill="#060606"/><rect x="160.95" y="63.0" width="1" height="17.0" fill="#58c4dc"/><rect x="163.72" y="63.8" width="1" height="26.2" fill="#58c4dc"/><rect x="166.49" y="85.3" width="1" height="26.7" fill="#58c4dc"/><rect x="169.26" y="103.4" width="1" height="110.0" fill="#58c4dc"/><rect x="172.02" y="140.0" width="1" height="33.3" fill="#060606"/><rect x="174.79" y="114.0" width="1" height="38.0" fill="#060606"/><rect x="177.56" y="120.0" width="1" height="12.2" fill="#58c4dc"/><rect x="180.32" y="127.2" width="1" height="15.7" fill="#58c4dc"/><rect x="183.09" y="138.0" width="1" height="51.3" fill="#58c4dc"/><rect x="185.86" y="183.0" width="1" height="45.0" fill="#58c4dc"/><rect x="188.62" y="192.5" width="1" height="50.5" fill="#58c4dc"/><rect x="191.39" y="209.3" width="1" height="51.3" fill="#58c4dc"/><rect x="194.16" y="250.0" width="1" height="23.2" fill="#58c4dc"/><rect x="196.93" y="241.0" width="1" height="44.4" fill="#58c4dc"/><rect x="199.69" y="279.8" width="1" height="73.6" fill="#58c4dc"/><rect x="202.46" y="349.0" width="1" height="54.0" fill="#58c4dc"/><rect x="205.23" y="399.8" width="1" height="63.8" fill="#58c4dc"/><rect x="207.99" y="384.0" width="1" height="146.3" fill="#060606"/><rect x="210.76" y="364.0" width="1" height="69.0" fill="#060606"/><rect x="213.53" y="365.8" width="1" height="54.2" fill="#060606"/><rect x="216.30" y="305.0" width="1" height="65.7" fill="#060606"/><rect x="219.06" y="249.0" width="1" height="74.0" fill="#060606"/><rect x="221.83" y="243.0" width="1" height="45.5" fill="#58c4dc"/><rect x="224.60" y="261.4" width="1" height="30.6" fill="#060606"/><rect x="227.36" y="245.0" width="1" height="104.5" fill="#58c4dc"/><rect x="230.13" y="321.0" width="1" height="22.0" fill="#58c4dc"/><rect x="232.90" y="288.0" width="1" height="49.1" fill="#060606"/><rect x="235.66" y="289.0" width="1" height="31.0" fill="#060606"/><rect x="238.43" y="292.0" width="1" height="22.0" fill="#58c4dc"/><rect x="241.20" y="296.0" width="1" height="16.0" fill="#58c4dc"/><rect x="243.97" y="292.0" width="1" height="19.0" fill="#060606"/><rect x="246.73" y="257.0" width="1" height="40.0" fill="#060606"/><rect x="249.50" y="248.0" width="1" height="20.0" fill="#060606"/><rect x="252.27" y="248.0" width="1" height="30.5" fill="#060606"/><rect x="255.03" y="232.0" width="1" height="52.7" fill="#58c4dc"/><rect x="257.80" y="250.5" width="1" height="33.5" fill="#060606"/><rect x="260.57" y="253.0" width="1" height="22.6" fill="#58c4dc"/><rect x="263.33" y="267.3" width="1" height="55.4" fill="#58c4dc"/><rect x="266.10" y="288.5" width="1" height="38.1" fill="#060606"/><rect x="268.87" y="258.0" width="1" height="48.0" fill="#060606"/><rect x="271.63" y="258.0" width="1" height="32.0" fill="#58c4dc"/><rect x="274.40" y="273.0" width="1" height="30.0" fill="#58c4dc"/><rect x="277.17" y="292.1" width="1" height="22.7" fill="#58c4dc"/><rect x="279.94" y="301.0" width="1" height="22.5" fill="#58c4dc"/><rect x="282.70" y="294.8" width="1" height="40.7" fill="#060606"/><rect x="285.47" y="284.7" width="1" height="34.9" fill="#58c4dc"/><rect x="288.24" y="305.8" width="1" height="19.2" fill="#58c4dc"/><rect x="291.00" y="302.5" width="1" height="30.7" fill="#58c4dc"/><rect x="293.77" y="324.4" width="1" height="37.6" fill="#58c4dc"/><rect x="296.54" y="355.0" width="1" height="21.0" fill="#060606"/><rect x="299.31" y="316.5" width="1" height="71.8" fill="#58c4dc"/><rect x="302.07" y="338.0" width="1" height="47.0" fill="#060606"/><rect x="304.84" y="326.0" width="1" height="37.5" fill="#58c4dc"/><rect x="307.61" y="333.0" width="1" height="26.8" fill="#060606"/><rect x="310.37" y="342.0" width="1" height="24.6" fill="#58c4dc"/><rect x="313.14" y="328.5" width="1" height="33.5" fill="#060606"/><rect x="315.91" y="324.7" width="1" height="33.4" fill="#58c4dc"/><rect x="318.67" y="352.6" width="1" height="43.4" fill="#58c4dc"/><rect x="321.44" y="369.4" width="1" height="35.2" fill="#060606"/><rect x="324.21" y="364.0" width="1" height="18.4" fill="#060606"/><rect x="326.98" y="366.6" width="1" height="15.4" fill="#58c4dc"/><rect x="329.74" y="352.2" width="1" height="29.4" fill="#060606"/><rect x="332.51" y="303.0" width="1" height="58.0" fill="#060606"/><rect x="335.28" y="299.0" width="1" height="22.4" fill="#060606"/><rect x="338.04" y="305.7" width="1" height="13.7" fill="#58c4dc"/><rect x="340.81" y="305.0" width="1" height="10.0" fill="#060606"/><rect x="343.58" y="300.0" width="1" height="17.1" fill="#060606"/><rect x="346.34" y="272.0" width="1" height="34.9" fill="#060606"/><rect x="349.11" y="272.0" width="1" height="28.0" fill="#58c4dc"/><rect x="351.88" y="287.0" width="1" height="14.6" fill="#060606"/><rect x="354.64" y="279.0" width="1" height="17.0" fill="#58c4dc"/><rect x="357.41" y="283.8" width="1" height="18.2" fill="#060606"/><rect x="360.18" y="262.0" width="1" height="28.6" fill="#060606"/><rect x="362.95" y="261.2" width="1" height="19.9" fill="#58c4dc"/><rect x="365.71" y="275.0" width="1" height="39.8" fill="#58c4dc"/><rect x="368.48" y="306.0" width="1" height="26.0" fill="#58c4dc"/><rect x="371.25" y="308.5" width="1" height="22.5" fill="#060606"/><rect x="374.01" y="310.0" width="1" height="18.0" fill="#58c4dc"/><rect x="376.78" y="313.0" width="1" height="15.0" fill="#060606"/><rect x="379.55" y="308.5" width="1" height="17.1" fill="#060606"/><rect x="382.31" y="283.0" width="1" height="67.5" fill="#58c4dc"/><rect x="385.08" y="328.7" width="1" height="19.5" fill="#060606"/><rect x="387.85" y="310.0" width="1" height="29.5" fill="#060606"/><rect x="390.62" y="304.0" width="1" height="22.1" fill="#58c4dc"/><rect x="393.38" y="315.8" width="1" height="15.6" fill="#58c4dc"/><rect x="396.15" y="320.7" width="1" height="19.1" fill="#58c4dc"/><rect x="398.92" y="325.0" width="1" height="43.4" fill="#58c4dc"/><rect x="401.68" y="328.0" width="1" height="32.6" fill="#060606"/><rect x="404.45" y="335.7" width="1" height="13.7" fill="#58c4dc"/><rect x="407.22" y="339.9" width="1" height="20.7" fill="#060606"/><rect x="409.98" y="328.7" width="1" height="16.5" fill="#060606"/><rect x="412.75" y="323.3" width="1" height="31.7" fill="#58c4dc"/><rect x="415.52" y="325.6" width="1" height="38.9" fill="#060606"/><rect x="418.29" y="339.4" width="1" height="46.0" fill="#58c4dc"/><rect x="421.05" y="367.2" width="1" height="17.0" fill="#060606"/><rect x="423.82" y="358.0" width="1" height="16.8" fill="#060606"/><rect x="426.59" y="350.0" width="1" height="11.4" fill="#060606"/><rect x="429.35" y="350.2" width="1" height="23.5" fill="#58c4dc"/><rect x="432.12" y="363.4" width="1" height="27.8" fill="#58c4dc"/><rect x="434.89" y="353.6" width="1" height="31.1" fill="#060606"/><rect x="437.65" y="353.4" width="1" height="13.6" fill="#58c4dc"/><rect x="440.42" y="343.7" width="1" height="16.9" fill="#060606"/><rect x="443.19" y="333.4" width="1" height="19.3" fill="#060606"/><rect x="445.96" y="325.6" width="1" height="28.2" fill="#58c4dc"/><rect x="448.72" y="331.8" width="1" height="40.2" fill="#060606"/><rect x="451.49" y="328.0" width="1" height="30.0" fill="#060606"/><rect x="454.26" y="329.8" width="1" height="5.2" fill="#060606"/><rect x="457.02" y="328.6" width="1" height="17.1" fill="#58c4dc"/><rect x="459.79" y="334.9" width="1" height="11.4" fill="#060606"/><rect x="462.56" y="324.2" width="1" height="16.2" fill="#060606"/><rect x="465.32" y="316.4" width="1" height="16.6" fill="#060606"/><rect x="468.09" y="317.0" width="1" height="11.6" fill="#58c4dc"/><rect x="470.86" y="319.5" width="1" height="17.7" fill="#58c4dc"/><rect x="473.63" y="329.0" width="1" height="9.0" fill="#060606"/><rect x="476.39" y="328.2" width="1" height="8.2" fill="#060606"/><rect x="479.16" y="327.0" width="1" height="9.0" fill="#060606"/><rect x="481.93" y="325.8" width="1" height="24.0" fill="#58c4dc"/><rect x="484.69" y="337.0" width="1" height="16.6" fill="#58c4dc"/><rect x="487.46" y="339.7" width="1" height="12.9" fill="#060606"/><rect x="490.23" y="340.0" width="1" height="84.7" fill="#58c4dc"/><rect x="492.99" y="382.0" width="1" height="32.6" fill="#060606"/><rect x="495.76" y="368.4" width="1" height="23.6" fill="#060606"/><rect x="498.53" y="370.0" width="1" height="22.7" fill="#58c4dc"/><rect x="501.30" y="388.1" width="1" height="39.4" fill="#58c4dc"/><rect x="504.06" y="406.8" width="1" height="27.2" fill="#060606"/><rect x="506.83" y="406.8" width="1" height="37.5" fill="#58c4dc"/><rect x="509.60" y="439.5" width="1" height="22.5" fill="#58c4dc"/><rect x="512.36" y="445.6" width="1" height="10.9" fill="#060606"/><rect x="515.13" y="430.0" width="1" height="36.6" fill="#060606"/><rect x="517.90" y="413.8" width="1" height="24.1" fill="#060606"/><rect x="520.66" y="417.0" width="1" height="17.8" fill="#58c4dc"/><rect x="523.43" y="374.6" width="1" height="57.9" fill="#060606"/><rect x="526.20" y="390.5" width="1" height="22.5" fill="#58c4dc"/><rect x="528.97" y="390.5" width="1" height="19.1" fill="#060606"/><rect x="531.73" y="343.5" width="1" height="57.4" fill="#060606"/><rect x="534.50" y="294.7" width="1" height="54.3" fill="#060606"/><rect x="537.27" y="283.7" width="1" height="51.9" fill="#58c4dc"/><rect x="540.03" y="315.6" width="1" height="24.1" fill="#060606"/><rect x="542.80" y="313.0" width="1" height="27.1" fill="#58c4dc"/><rect x="545.57" y="315.6" width="1" height="25.1" fill="#060606"/><rect x="548.34" y="325.7" width="1" height="37.3" fill="#58c4dc"/><rect x="551.10" y="335.8" width="1" height="34.2" fill="#060606"/><rect x="553.87" y="338.0" width="1" height="15.6" fill="#58c4dc"/><rect x="556.64" y="341.2" width="1" height="18.6" fill="#060606"/><rect x="559.40" y="328.0" width="1" height="20.4" fill="#060606"/><rect x="562.17" y="329.6" width="1" height="52.7" fill="#58c4dc"/><rect x="564.94" y="373.8" width="1" height="15.9" fill="#58c4dc"/><rect x="567.70" y="376.3" width="1" height="26.7" fill="#58c4dc"/><rect x="570.47" y="382.8" width="1" height="24.8" fill="#060606"/><rect x="573.24" y="380.0" width="1" height="11.6" fill="#58c4dc"/><rect x="576.00" y="386.4" width="1" height="67.8" fill="#58c4dc"/><rect x="578.77" y="424.0" width="1" height="21.6" fill="#060606"/><rect x="581.54" y="407.3" width="1" height="29.7" fill="#060606"/><rect x="584.31" y="366.0" width="1" height="48.3" fill="#060606"/><rect x="587.07" y="339.7" width="1" height="37.3" fill="#060606"/><rect x="589.84" y="327.6" width="1" height="52.0" fill="#060606"/><rect x="592.61" y="343.0" width="1" height="15.6" fill="#58c4dc"/><rect x="595.37" y="351.0" width="1" height="19.2" fill="#58c4dc"/><rect x="598.14" y="348.5" width="1" height="30.3" fill="#060606"/><rect x="600.91" y="354.8" width="1" height="33.2" fill="#58c4dc"/><rect x="603.67" y="383.2" width="1" height="10.8" fill="#58c4dc"/><rect x="606.44" y="355.5" width="1" height="35.1" fill="#060606"/><rect x="609.21" y="357.0" width="1" height="32.7" fill="#58c4dc"/><rect x="611.98" y="364.8" width="1" height="25.7" fill="#060606"/><rect x="614.74" y="290.0" width="1" height="105.0" fill="#060606"/><rect x="617.51" y="281.4" width="1" height="33.2" fill="#58c4dc"/><rect x="620.28" y="296.0" width="1" height="23.1" fill="#58c4dc"/><rect x="623.04" y="302.8" width="1" height="24.0" fill="#58c4dc"/><rect x="625.81" y="319.8" width="1" height="17.9" fill="#58c4dc"/><rect x="628.58" y="326.0" width="1" height="48.0" fill="#58c4dc"/><rect x="631.35" y="334.6" width="1" height="44.2" fill="#060606"/><rect x="634.11" y="309.0" width="1" height="36.4" fill="#060606"/><rect x="636.88" y="310.5" width="1" height="29.5" fill="#58c4dc"/><rect x="639.65" y="316.7" width="1" height="31.1" fill="#58c4dc"/><rect x="642.41" y="292.2" width="1" height="53.2" fill="#060606"/><rect x="645.18" y="238.0" width="1" height="63.0" fill="#060606"/><rect x="647.95" y="199.0" width="1" height="60.1" fill="#060606"/><rect x="650.71" y="184.3" width="1" height="37.3" fill="#060606"/><rect x="653.48" y="192.5" width="1" height="34.0" fill="#58c4dc"/><rect x="656.25" y="209.2" width="1" height="17.7" fill="#58c4dc"/><rect x="659.01" y="209.0" width="1" height="31.0" fill="#58c4dc"/><rect x="661.78" y="197.3" width="1" height="42.7" fill="#060606"/><rect x="664.55" y="209.0" width="1" height="37.2" fill="#58c4dc"/><rect x="667.32" y="241.4" width="1" height="26.8" fill="#58c4dc"/><rect x="670.08" y="245.9" width="1" height="20.8" fill="#58c4dc"/><rect x="672.85" y="249.8" width="1" height="25.2" fill="#060606"/><rect x="675.62" y="256.6" width="1" height="24.2" fill="#58c4dc"/><rect x="678.38" y="264.6" width="1" height="16.6" fill="#58c4dc"/><rect x="681.15" y="272.4" width="1" height="53.6" fill="#58c4dc"/><rect x="683.92" y="317.8" width="1" height="20.7" fill="#58c4dc"/><rect x="686.69" y="323.0" width="1" height="15.5" fill="#58c4dc"/><rect x="689.45" y="319.8" width="1" height="13.3" fill="#060606"/><rect x="692.22" y="327.3" width="1" height="19.7" fill="#58c4dc"/><rect x="694.99" y="326.8" width="1" height="13.2" fill="#060606"/><rect x="697.75" y="331.5" width="1" height="9.6" fill="#58c4dc"/><rect x="700.52" y="335.0" width="1" height="22.3" fill="#58c4dc"/><rect x="703.29" y="346.5" width="1" height="11.7" fill="#060606"/><rect x="706.05" y="346.2" width="1" height="13.5" fill="#58c4dc"/><rect x="708.82" y="347.0" width="1" height="21.2" fill="#060606"/><rect x="711.59" y="329.2" width="1" height="24.2" fill="#060606"/><rect x="714.36" y="341.8" width="1" height="19.2" fill="#58c4dc"/><rect x="717.12" y="347.0" width="1" height="16.5" fill="#060606"/><rect x="719.89" y="345.0" width="1" height="45.7" fill="#58c4dc"/><rect x="722.66" y="341.7" width="1" height="43.3" fill="#060606"/><rect x="725.42" y="332.5" width="1" height="27.2" fill="#060606"/><rect x="728.19" y="323.2" width="1" height="22.8" fill="#060606"/><rect x="730.96" y="296.7" width="1" height="44.4" fill="#060606"/><rect x="733.72" y="295.0" width="1" height="31.3" fill="#060606"/><rect x="736.49" y="302.9" width="1" height="23.4" fill="#58c4dc"/><rect x="739.26" y="270.4" width="1" height="56.0" fill="#060606"/><rect x="742.02" y="273.0" width="1" height="26.3" fill="#060606"/><rect x="744.79" y="253.3" width="1" height="23.3" fill="#060606"/><rect x="747.56" y="240.9" width="1" height="60.5" fill="#060606"/><rect x="750.33" y="242.4" width="1" height="48.1" fill="#58c4dc"/><rect x="753.09" y="274.0" width="1" height="22.7" fill="#58c4dc"/><rect x="755.86" y="280.0" width="1" height="16.0" fill="#58c4dc"/><rect x="758.63" y="278.0" width="1" height="20.3" fill="#060606"/><rect x="761.39" y="287.1" width="1" height="19.6" fill="#58c4dc"/><rect x="764.16" y="258.0" width="1" height="50.4" fill="#060606"/><rect x="766.93" y="252.5" width="1" height="29.9" fill="#060606"/><rect x="769.70" y="261.0" width="1" height="20.4" fill="#58c4dc"/><rect x="772.46" y="275.8" width="1" height="26.2" fill="#58c4dc"/><rect x="775.23" y="284.8" width="1" height="18.2" fill="#060606"/><rect x="778.00" y="265.7" width="1" height="27.9" fill="#060606"/><rect x="780.76" y="268.0" width="1" height="31.8" fill="#58c4dc"/><rect x="783.53" y="270.0" width="1" height="19.8" fill="#060606"/><rect x="786.30" y="266.5" width="1" height="17.0" fill="#060606"/><rect x="789.06" y="235.4" width="1" height="38.8" fill="#060606"/><rect x="791.83" y="243.0" width="1" height="11.8" fill="#060606"/><rect x="794.60" y="220.6" width="1" height="28.8" fill="#060606"/><rect x="797.37" y="188.0" width="1" height="51.5" fill="#58c4dc"/><rect x="800.13" y="236.3" width="1" height="24.7" fill="#58c4dc"/><rect x="802.90" y="248.6" width="1" height="21.0" fill="#58c4dc"/><rect x="805.67" y="255.6" width="1" height="15.4" fill="#060606"/><rect x="808.43" y="252.5" width="1" height="24.1" fill="#58c4dc"/><rect x="811.20" y="265.0" width="1" height="10.0" fill="#060606"/><rect x="813.97" y="261.0" width="1" height="11.0" fill="#58c4dc"/><rect x="816.73" y="263.1" width="1" height="10.1" fill="#060606"/><rect x="819.50" y="253.3" width="1" height="16.5" fill="#060606"/><rect x="822.27" y="244.7" width="1" height="13.5" fill="#060606"/><rect x="825.03" y="240.0" width="1" height="12.0" fill="#060606"/><rect x="827.80" y="237.0" width="1" height="14.0" fill="#060606"/><rect x="830.57" y="235.9" width="1" height="16.6" fill="#58c4dc"/><rect x="833.34" y="234.6" width="1" height="17.1" fill="#060606"/><rect x="836.10" y="205.9" width="1" height="45.3" fill="#060606"/><rect x="838.87" y="178.7" width="1" height="48.9" fill="#060606"/><rect x="841.64" y="175.6" width="1" height="26.4" fill="#58c4dc"/><rect x="844.40" y="191.0" width="1" height="21.0" fill="#060606"/><rect x="847.17" y="174.8" width="1" height="35.7" fill="#58c4dc"/><rect x="849.94" y="176.4" width="1" height="30.2" fill="#060606"/><rect x="852.71" y="164.0" width="1" height="25.8" fill="#060606"/><rect x="855.47" y="137.3" width="1" height="43.0" fill="#58c4dc"/><rect x="858.24" y="170.0" width="1" height="13.2" fill="#58c4dc"/><rect x="861.01" y="174.8" width="1" height="21.0" fill="#58c4dc"/><rect x="863.77" y="164.0" width="1" height="36.4" fill="#58c4dc"/><rect x="866.54" y="167.0" width="1" height="22.8" fill="#060606"/><rect x="869.31" y="167.0" width="1" height="22.6" fill="#58c4dc"/><rect x="872.07" y="170.0" width="1" height="26.6" fill="#060606"/><rect x="874.84" y="174.8" width="1" height="18.4" fill="#58c4dc"/><rect x="877.61" y="186.0" width="1" height="28.4" fill="#58c4dc"/><rect x="880.38" y="210.3" width="1" height="39.1" fill="#58c4dc"/><rect x="883.14" y="240.0" width="1" height="22.3" fill="#58c4dc"/><rect x="885.91" y="244.0" width="1" height="27.6" fill="#060606"/><rect x="888.68" y="248.0" width="1" height="16.4" fill="#58c4dc"/><rect x="891.44" y="258.8" width="1" height="24.6" fill="#58c4dc"/><rect x="894.21" y="271.0" width="1" height="16.4" fill="#58c4dc"/><rect x="896.98" y="283.4" width="1" height="30.0" fill="#58c4dc"/><rect x="899.74" y="270.0" width="1" height="35.8" fill="#060606"/><rect x="902.51" y="276.3" width="1" height="14.5" fill="#58c4dc"/><rect x="905.28" y="264.7" width="1" height="26.7" fill="#060606"/><rect x="908.05" y="260.8" width="1" height="17.8" fill="#060606"/><rect x="910.81" y="250.0" width="1" height="26.4" fill="#58c4dc"/><rect x="913.58" y="271.4" width="1" height="25.6" fill="#58c4dc"/><rect x="916.35" y="278.4" width="1" height="20.4" fill="#060606"/><rect x="919.11" y="262.3" width="1" height="28.7" fill="#060606"/><rect x="921.88" y="264.7" width="1" height="9.5" fill="#060606"/><rect x="924.65" y="263.0" width="1" height="7.1" fill="#060606"/><rect x="927.41" y="263.6" width="1" height="8.8" fill="#58c4dc"/><rect x="930.18" y="257.7" width="1" height="15.5" fill="#58c4dc"/><rect x="932.95" y="265.0" width="1" height="15.0" fill="#58c4dc"/><rect x="935.72" y="274.5" width="1" height="37.5" fill="#58c4dc"/><rect x="938.48" y="294.4" width="1" height="30.6" fill="#060606"/><rect x="941.25" y="297.6" width="1" height="15.6" fill="#58c4dc"/><rect x="944.02" y="308.4" width="1" height="21.7" fill="#58c4dc"/><rect x="946.78" y="308.7" width="1" height="22.7" fill="#060606"/><rect x="949.55" y="311.6" width="1" height="22.2" fill="#58c4dc"/><rect x="952.32" y="327.5" width="1" height="22.1" fill="#58c4dc"/><rect x="955.08" y="319.6" width="1" height="27.1" fill="#060606"/><rect x="957.85" y="311.8" width="1" height="32.6" fill="#060606"/><rect x="960.62" y="249.0" width="1" height="86.9" fill="#060606"/><rect x="963.38" y="240.7" width="1" height="51.9" fill="#58c4dc"/><rect x="966.15" y="254.6" width="1" height="30.4" fill="#060606"/><rect x="968.92" y="260.0" width="1" height="15.5" fill="#060606"/><rect x="971.69" y="257.7" width="1" height="20.2" fill="#58c4dc"/><rect x="974.45" y="250.7" width="1" height="31.0" fill="#060606"/><rect x="977.22" y="251.7" width="1" height="12.5" fill="#58c4dc"/><rect x="91.78" y="-5" width="1" height="19.4" fill="#58c4dc"/><rect x="116.68" y="-5" width="1" height="35.0" fill="#58c4dc"/>
<rect x="118.55" y="11.0" width="2.8" height="87.0" fill="#58c4dc"/><rect x="121.32" y="70.0" width="2.8" height="28.0" fill="#060606"/><rect x="124.08" y="70.0" width="2.8" height="2.0" fill="#060606"/><rect x="126.85" y="71.6" width="2.8" height="15.4" fill="#58c4dc"/><rect x="129.62" y="73.0" width="2.8" height="14.0" fill="#060606"/><rect x="132.38" y="73.0" width="2.8" height="23.0" fill="#58c4dc"/><rect x="135.15" y="96.0" width="2.8" height="4.0" fill="#58c4dc"/><rect x="137.92" y="100.0" width="2.8" height="9.0" fill="#58c4dc"/><rect x="140.69" y="109.0" width="2.8" height="24.7" fill="#58c4dc"/><rect x="143.45" y="124.4" width="2.8" height="9.3" fill="#060606"/><rect x="146.22" y="97.0" width="2.8" height="27.4" fill="#060606"/><rect x="148.99" y="68.5" width="2.8" height="29.5" fill="#060606"/><rect x="151.75" y="68.5" width="2.8" height="7.5" fill="#58c4dc"/><rect x="154.52" y="71.0" width="2.8" height="5.0" fill="#060606"/><rect x="157.29" y="71.0" width="2.8" height="2.0" fill="#060606"/><rect x="160.05" y="71.0" width="2.8" height="3.0" fill="#58c4dc"/><rect x="162.82" y="71.0" width="2.8" height="17.7" fill="#58c4dc"/><rect x="165.59" y="88.7" width="2.8" height="16.3" fill="#58c4dc"/><rect x="168.36" y="105.0" width="2.8" height="62.0" fill="#58c4dc"/><rect x="171.12" y="146.0" width="2.8" height="21.0" fill="#060606"/><rect x="173.89" y="122.9" width="2.8" height="23.1" fill="#060606"/><rect x="176.66" y="122.9" width="2.8" height="7.7" fill="#58c4dc"/><rect x="179.42" y="130.6" width="2.8" height="10.1" fill="#58c4dc"/><rect x="182.19" y="140.7" width="2.8" height="45.8" fill="#58c4dc"/><rect x="184.96" y="186.5" width="2.8" height="7.0" fill="#58c4dc"/><rect x="187.72" y="193.5" width="2.8" height="18.0" fill="#58c4dc"/><rect x="190.49" y="211.5" width="2.8" height="47.5" fill="#58c4dc"/><rect x="193.26" y="259.0" width="2.8" height="12.0" fill="#58c4dc"/><rect x="196.03" y="271.0" width="2.8" height="11.6" fill="#58c4dc"/><rect x="198.79" y="282.6" width="2.8" height="67.4" fill="#58c4dc"/><rect x="201.56" y="350.0" width="2.8" height="52.0" fill="#58c4dc"/><rect x="204.33" y="402.0" width="2.8" height="60.0" fill="#58c4dc"/><rect x="207.09" y="428.4" width="2.8" height="33.6" fill="#060606"/><rect x="209.86" y="413.0" width="2.8" height="17.0" fill="#060606"/><rect x="212.63" y="369.7" width="2.8" height="43.3" fill="#060606"/><rect x="215.40" y="319.0" width="2.8" height="50.7" fill="#060606"/><rect x="218.16" y="267.6" width="2.8" height="52.0" fill="#060606"/><rect x="220.93" y="268.0" width="2.8" height="4.0" fill="#58c4dc"/><rect x="223.70" y="263.0" width="2.8" height="22.0" fill="#060606"/><rect x="226.46" y="263.0" width="2.8" height="67.0" fill="#58c4dc"/><rect x="229.23" y="322.0" width="2.8" height="13.5" fill="#58c4dc"/><rect x="232.00" y="307.0" width="2.8" height="28.5" fill="#060606"/><rect x="234.76" y="301.0" width="2.8" height="7.0" fill="#060606"/><rect x="237.53" y="301.0" width="2.8" height="7.0" fill="#58c4dc"/><rect x="240.30" y="303.0" width="2.8" height="5.0" fill="#58c4dc"/><rect x="243.06" y="293.0" width="2.8" height="15.0" fill="#060606"/><rect x="245.83" y="262.0" width="2.8" height="32.0" fill="#060606"/><rect x="248.60" y="250.5" width="2.8" height="11.5" fill="#060606"/><rect x="251.37" y="250.5" width="2.8" height="7.5" fill="#060606"/><rect x="254.13" y="250.5" width="2.8" height="31.1" fill="#58c4dc"/><rect x="256.90" y="253.0" width="2.8" height="25.5" fill="#060606"/><rect x="259.67" y="253.6" width="2.8" height="20.4" fill="#58c4dc"/><rect x="262.43" y="270.7" width="2.8" height="41.9" fill="#58c4dc"/><rect x="265.20" y="296.0" width="2.8" height="16.6" fill="#060606"/><rect x="267.97" y="262.0" width="2.8" height="34.0" fill="#060606"/><rect x="270.74" y="262.0" width="2.8" height="27.0" fill="#58c4dc"/><rect x="273.50" y="281.6" width="2.8" height="15.4" fill="#58c4dc"/><rect x="276.27" y="295.5" width="2.8" height="17.1" fill="#58c4dc"/><rect x="279.04" y="309.5" width="2.8" height="12.5" fill="#58c4dc"/><rect x="281.80" y="302.5" width="2.8" height="20.2" fill="#060606"/><rect x="284.57" y="303.0" width="2.8" height="9.6" fill="#58c4dc"/><rect x="287.34" y="308.0" width="2.8" height="14.0" fill="#58c4dc"/><rect x="290.10" y="314.0" width="2.8" height="17.0" fill="#58c4dc"/><rect x="292.87" y="326.0" width="2.8" height="33.0" fill="#58c4dc"/><rect x="295.64" y="357.0" width="2.8" height="1.0" fill="#060606"/><rect x="298.41" y="357.0" width="2.8" height="13.0" fill="#58c4dc"/><rect x="301.17" y="345.6" width="2.8" height="24.8" fill="#060606"/><rect x="303.94" y="345.6" width="2.8" height="11.4" fill="#58c4dc"/><rect x="306.71" y="345.0" width="2.8" height="12.0" fill="#060606"/><rect x="309.47" y="345.0" width="2.8" height="11.0" fill="#58c4dc"/><rect x="312.24" y="331.6" width="2.8" height="22.4" fill="#060606"/><rect x="315.01" y="331.6" width="2.8" height="24.9" fill="#58c4dc"/><rect x="317.77" y="355.7" width="2.8" height="33.3" fill="#58c4dc"/><rect x="320.54" y="371.0" width="2.8" height="18.0" fill="#060606"/><rect x="323.31" y="369.7" width="2.8" height="9.3" fill="#060606"/><rect x="326.08" y="370.0" width="2.8" height="10.0" fill="#58c4dc"/><rect x="328.84" y="354.4" width="2.8" height="25.6" fill="#060606"/><rect x="331.61" y="317.0" width="2.8" height="38.0" fill="#060606"/><rect x="334.38" y="311.0" width="2.8" height="7.6" fill="#060606"/><rect x="337.14" y="308.5" width="2.8" height="7.5" fill="#58c4dc"/><rect x="339.91" y="306.0" width="2.8" height="8.0" fill="#060606"/><rect x="342.68" y="304.0" width="2.8" height="11.5" fill="#060606"/><rect x="345.44" y="272.8" width="2.8" height="31.9" fill="#060606"/><rect x="348.21" y="272.8" width="2.8" height="17.9" fill="#58c4dc"/><rect x="350.98" y="288.4" width="2.8" height="3.1" fill="#060606"/><rect x="353.75" y="288.0" width="2.8" height="3.0" fill="#58c4dc"/><rect x="356.51" y="286.0" width="2.8" height="4.0" fill="#060606"/><rect x="359.28" y="264.3" width="2.8" height="24.1" fill="#060606"/><rect x="362.05" y="264.3" width="2.8" height="14.0" fill="#58c4dc"/><rect x="364.81" y="277.5" width="2.8" height="30.3" fill="#58c4dc"/><rect x="367.58" y="307.0" width="2.8" height="24.0" fill="#58c4dc"/><rect x="370.35" y="314.0" width="2.8" height="14.0" fill="#060606"/><rect x="373.11" y="313.0" width="2.8" height="12.6" fill="#58c4dc"/><rect x="375.88" y="320.0" width="2.8" height="4.8" fill="#060606"/><rect x="378.65" y="313.0" width="2.8" height="8.7" fill="#060606"/><rect x="381.42" y="314.0" width="2.8" height="32.6" fill="#58c4dc"/><rect x="384.18" y="336.5" width="2.8" height="10.1" fill="#060606"/><rect x="386.95" y="311.6" width="2.8" height="25.7" fill="#060606"/><rect x="389.72" y="311.6" width="2.8" height="11.7" fill="#58c4dc"/><rect x="392.48" y="318.6" width="2.8" height="9.4" fill="#58c4dc"/><rect x="395.25" y="321.7" width="2.8" height="17.1" fill="#58c4dc"/><rect x="398.02" y="338.0" width="2.8" height="11.7" fill="#58c4dc"/><rect x="400.78" y="339.6" width="2.8" height="10.1" fill="#060606"/><rect x="403.55" y="338.8" width="2.8" height="7.8" fill="#58c4dc"/><rect x="406.32" y="342.7" width="2.8" height="3.9" fill="#060606"/><rect x="409.08" y="330.3" width="2.8" height="13.9" fill="#060606"/><rect x="411.85" y="331.0" width="2.8" height="18.7" fill="#58c4dc"/><rect x="414.62" y="341.0" width="2.8" height="9.0" fill="#060606"/><rect x="417.39" y="341.0" width="2.8" height="39.0" fill="#58c4dc"/><rect x="420.15" y="370.0" width="2.8" height="10.8" fill="#060606"/><rect x="422.92" y="359.0" width="2.8" height="14.8" fill="#060606"/><rect x="425.69" y="352.8" width="2.8" height="7.0" fill="#060606"/><rect x="428.45" y="353.6" width="2.8" height="17.9" fill="#58c4dc"/><rect x="431.22" y="365.0" width="2.8" height="8.8" fill="#58c4dc"/><rect x="433.99" y="356.7" width="2.8" height="17.1" fill="#060606"/><rect x="436.75" y="354.4" width="2.8" height="11.6" fill="#58c4dc"/><rect x="439.52" y="345.9" width="2.8" height="13.1" fill="#060606"/><rect x="442.29" y="338.0" width="2.8" height="12.5" fill="#060606"/><rect x="445.06" y="338.0" width="2.8" height="13.0" fill="#58c4dc"/><rect x="447.82" y="344.0" width="2.8" height="7.0" fill="#060606"/><rect x="450.59" y="333.4" width="2.8" height="10.8" fill="#060606"/><rect x="453.36" y="332.0" width="2.8" height="1.4" fill="#060606"/><rect x="456.12" y="332.0" width="2.8" height="11.5" fill="#58c4dc"/><rect x="458.89" y="336.5" width="2.8" height="7.0" fill="#060606"/><rect x="461.66" y="327.0" width="2.8" height="10.0" fill="#060606"/><rect x="464.43" y="318.0" width="2.8" height="14.0" fill="#060606"/><rect x="467.19" y="318.7" width="2.8" height="8.3" fill="#58c4dc"/><rect x="469.96" y="327.0" width="2.8" height="8.0" fill="#58c4dc"/><rect x="472.73" y="332.7" width="2.8" height="2.3" fill="#060606"/><rect x="475.49" y="331.0" width="2.8" height="2.0" fill="#060606"/><rect x="478.26" y="328.0" width="2.8" height="7.0" fill="#060606"/><rect x="481.03" y="328.0" width="2.8" height="14.0" fill="#58c4dc"/><rect x="483.79" y="340.4" width="2.8" height="8.6" fill="#58c4dc"/><rect x="486.56" y="342.8" width="2.8" height="7.0" fill="#060606"/><rect x="489.33" y="342.8" width="2.8" height="65.6" fill="#58c4dc"/><rect x="492.09" y="384.3" width="2.8" height="24.1" fill="#060606"/><rect x="494.86" y="376.5" width="2.8" height="7.8" fill="#060606"/><rect x="497.63" y="376.5" width="2.8" height="14.0" fill="#58c4dc"/><rect x="500.40" y="389.7" width="2.8" height="35.0" fill="#58c4dc"/><rect x="503.16" y="416.0" width="2.8" height="8.7" fill="#060606"/><rect x="505.93" y="416.0" width="2.8" height="27.3" fill="#58c4dc"/><rect x="508.70" y="441.7" width="2.8" height="10.9" fill="#58c4dc"/><rect x="511.46" y="450.3" width="2.8" height="2.3" fill="#060606"/><rect x="514.23" y="431.6" width="2.8" height="19.4" fill="#060606"/><rect x="517.00" y="420.0" width="2.8" height="12.4" fill="#060606"/><rect x="519.76" y="420.0" width="2.8" height="10.9" fill="#58c4dc"/><rect x="522.53" y="396.7" width="2.8" height="34.2" fill="#060606"/><rect x="525.30" y="396.7" width="2.8" height="10.1" fill="#58c4dc"/><rect x="528.07" y="396.0" width="2.8" height="10.8" fill="#060606"/><rect x="530.83" y="348.0" width="2.8" height="49.5" fill="#060606"/><rect x="533.60" y="307.0" width="2.8" height="41.0" fill="#060606"/><rect x="536.37" y="307.0" width="2.8" height="27.0" fill="#58c4dc"/><rect x="539.13" y="328.0" width="2.8" height="6.0" fill="#060606"/><rect x="541.90" y="328.8" width="2.8" height="8.5" fill="#58c4dc"/><rect x="544.67" y="332.0" width="2.8" height="5.3" fill="#060606"/><rect x="547.44" y="332.0" width="2.8" height="17.0" fill="#58c4dc"/><rect x="550.20" y="342.8" width="2.8" height="6.2" fill="#060606"/><rect x="552.97" y="342.8" width="2.8" height="4.6" fill="#58c4dc"/><rect x="555.74" y="342.8" width="2.8" height="3.9" fill="#060606"/><rect x="558.50" y="341.2" width="2.8" height="3.8" fill="#060606"/><rect x="561.27" y="341.2" width="2.8" height="38.8" fill="#58c4dc"/><rect x="564.04" y="379.0" width="2.8" height="3.0" fill="#58c4dc"/><rect x="566.80" y="379.7" width="2.8" height="18.6" fill="#58c4dc"/><rect x="569.57" y="384.3" width="2.8" height="14.0" fill="#060606"/><rect x="572.34" y="382.8" width="2.8" height="5.4" fill="#58c4dc"/><rect x="575.11" y="387.4" width="2.8" height="47.4" fill="#58c4dc"/><rect x="577.87" y="434.8" width="2.8" height="1.0" fill="#060606"/><rect x="580.64" y="410.7" width="2.8" height="24.1" fill="#060606"/><rect x="583.41" y="373.0" width="2.8" height="38.5" fill="#060606"/><rect x="586.17" y="358.3" width="2.8" height="16.3" fill="#060606"/><rect x="588.94" y="344.7" width="2.8" height="13.9" fill="#060606"/><rect x="591.71" y="344.7" width="2.8" height="12.3" fill="#58c4dc"/><rect x="594.47" y="354.0" width="2.8" height="14.0" fill="#58c4dc"/><rect x="597.24" y="361.7" width="2.8" height="10.1" fill="#060606"/><rect x="600.01" y="361.0" width="2.8" height="23.2" fill="#58c4dc"/><rect x="602.77" y="384.2" width="2.8" height="5.8" fill="#58c4dc"/><rect x="605.54" y="361.7" width="2.8" height="27.3" fill="#060606"/><rect x="608.31" y="361.7" width="2.8" height="20.3" fill="#58c4dc"/><rect x="611.08" y="374.0" width="2.8" height="8.7" fill="#060606"/><rect x="613.84" y="305.9" width="2.8" height="68.1" fill="#060606"/><rect x="616.61" y="305.9" width="2.8" height="7.7" fill="#58c4dc"/><rect x="619.38" y="309.0" width="2.8" height="8.5" fill="#58c4dc"/><rect x="622.14" y="312.8" width="2.8" height="12.5" fill="#58c4dc"/><rect x="624.91" y="323.7" width="2.8" height="7.0" fill="#58c4dc"/><rect x="627.68" y="329.0" width="2.8" height="28.9" fill="#58c4dc"/><rect x="630.45" y="340.0" width="2.8" height="17.9" fill="#060606"/><rect x="633.21" y="323.0" width="2.8" height="17.8" fill="#060606"/><rect x="635.98" y="323.0" width="2.8" height="13.0" fill="#58c4dc"/><rect x="638.75" y="325.3" width="2.8" height="16.3" fill="#58c4dc"/><rect x="641.51" y="295.0" width="2.8" height="45.8" fill="#060606"/><rect x="644.28" y="257.5" width="2.8" height="42.5" fill="#060606"/><rect x="647.05" y="200.0" width="2.8" height="57.5" fill="#060606"/><rect x="649.81" y="193.4" width="2.8" height="7.6" fill="#060606"/><rect x="652.58" y="194.4" width="2.8" height="17.6" fill="#58c4dc"/><rect x="655.35" y="212.0" width="2.8" height="11.5" fill="#58c4dc"/><rect x="658.12" y="219.7" width="2.8" height="13.3" fill="#58c4dc"/><rect x="660.88" y="212.9" width="2.8" height="20.1" fill="#060606"/><rect x="663.65" y="212.9" width="2.8" height="31.1" fill="#58c4dc"/><rect x="666.42" y="243.0" width="2.8" height="19.4" fill="#58c4dc"/><rect x="669.18" y="256.0" width="2.8" height="7.3" fill="#58c4dc"/><rect x="671.95" y="258.5" width="2.8" height="3.9" fill="#060606"/><rect x="674.72" y="258.5" width="2.8" height="9.5" fill="#58c4dc"/><rect x="677.48" y="268.0" width="2.8" height="11.0" fill="#58c4dc"/><rect x="680.25" y="274.0" width="2.8" height="47.4" fill="#58c4dc"/><rect x="683.02" y="320.6" width="2.8" height="10.1" fill="#58c4dc"/><rect x="685.79" y="326.0" width="2.8" height="5.5" fill="#58c4dc"/><rect x="688.55" y="330.0" width="2.8" height="1.5" fill="#060606"/><rect x="691.32" y="330.7" width="2.8" height="7.8" fill="#58c4dc"/><rect x="694.09" y="333.0" width="2.8" height="5.5" fill="#060606"/><rect x="696.85" y="333.0" width="2.8" height="4.7" fill="#58c4dc"/><rect x="699.62" y="336.0" width="2.8" height="20.3" fill="#58c4dc"/><rect x="702.39" y="351.0" width="2.8" height="5.6" fill="#060606"/><rect x="705.15" y="351.0" width="2.8" height="5.6" fill="#58c4dc"/><rect x="707.92" y="350.4" width="2.8" height="8.6" fill="#060606"/><rect x="710.69" y="344.7" width="2.8" height="5.3" fill="#060606"/><rect x="713.46" y="344.7" width="2.8" height="8.8" fill="#58c4dc"/><rect x="716.22" y="350.0" width="2.8" height="4.2" fill="#060606"/><rect x="718.99" y="350.0" width="2.8" height="33.5" fill="#58c4dc"/><rect x="721.76" y="353.5" width="2.8" height="30.2" fill="#060606"/><rect x="724.52" y="345.0" width="2.8" height="9.2" fill="#060606"/><rect x="727.29" y="338.7" width="2.8" height="6.3" fill="#060606"/><rect x="730.06" y="310.4" width="2.8" height="29.1" fill="#060606"/><rect x="732.82" y="308.4" width="2.8" height="3.6" fill="#060606"/><rect x="735.59" y="304.5" width="2.8" height="19.0" fill="#58c4dc"/><rect x="738.36" y="297.5" width="2.8" height="25.5" fill="#060606"/><rect x="741.12" y="274.0" width="2.8" height="24.3" fill="#060606"/><rect x="743.89" y="269.6" width="2.8" height="5.4" fill="#060606"/><rect x="746.66" y="251.0" width="2.8" height="19.4" fill="#060606"/><rect x="749.43" y="251.0" width="2.8" height="32.5" fill="#58c4dc"/><rect x="752.19" y="282.8" width="2.8" height="5.4" fill="#58c4dc"/><rect x="754.96" y="284.0" width="2.8" height="11.0" fill="#58c4dc"/><rect x="757.73" y="293.0" width="2.8" height="3.0" fill="#060606"/><rect x="760.49" y="290.5" width="2.8" height="14.0" fill="#58c4dc"/><rect x="763.26" y="279.0" width="2.8" height="25.5" fill="#060606"/><rect x="766.03" y="268.0" width="2.8" height="11.0" fill="#060606"/><rect x="768.80" y="267.2" width="2.8" height="13.2" fill="#58c4dc"/><rect x="771.56" y="279.7" width="2.8" height="18.6" fill="#58c4dc"/><rect x="774.33" y="288.2" width="2.8" height="10.1" fill="#060606"/><rect x="777.10" y="273.5" width="2.8" height="16.3" fill="#060606"/><rect x="779.86" y="273.5" width="2.8" height="3.1" fill="#58c4dc"/><rect x="782.63" y="271.0" width="2.8" height="5.6" fill="#060606"/><rect x="785.40" y="271.0" width="2.8" height="4.0" fill="#060606"/><rect x="788.16" y="250.0" width="2.8" height="22.0" fill="#060606"/><rect x="790.93" y="244.7" width="2.8" height="6.3" fill="#060606"/><rect x="793.70" y="230.0" width="2.8" height="15.5" fill="#060606"/><rect x="796.47" y="230.0" width="2.8" height="8.5" fill="#58c4dc"/><rect x="799.23" y="238.5" width="2.8" height="17.1" fill="#58c4dc"/><rect x="802.00" y="254.8" width="2.8" height="7.0" fill="#58c4dc"/><rect x="804.77" y="258.0" width="2.8" height="3.8" fill="#060606"/><rect x="807.53" y="258.0" width="2.8" height="11.0" fill="#58c4dc"/><rect x="810.30" y="265.7" width="2.8" height="3.9" fill="#060606"/><rect x="813.07" y="266.5" width="2.8" height="3.9" fill="#58c4dc"/><rect x="815.83" y="266.5" width="2.8" height="4.5" fill="#060606"/><rect x="818.60" y="254.0" width="2.8" height="13.0" fill="#060606"/><rect x="821.37" y="251.7" width="2.8" height="3.1" fill="#060606"/><rect x="824.13" y="248.6" width="2.8" height="3.1" fill="#060606"/><rect x="826.90" y="239.3" width="2.8" height="10.1" fill="#060606"/><rect x="829.67" y="239.3" width="2.8" height="7.0" fill="#58c4dc"/><rect x="832.44" y="245.5" width="2.8" height="3.1" fill="#060606"/><rect x="835.20" y="215.2" width="2.8" height="32.6" fill="#060606"/><rect x="837.97" y="197.3" width="2.8" height="18.7" fill="#060606"/><rect x="840.74" y="197.3" width="2.8" height="3.1" fill="#58c4dc"/><rect x="843.50" y="197.3" width="2.8" height="3.1" fill="#060606"/><rect x="846.27" y="196.6" width="2.8" height="8.4" fill="#58c4dc"/><rect x="849.04" y="187.2" width="2.8" height="17.8" fill="#060606"/><rect x="851.81" y="165.5" width="2.8" height="23.3" fill="#060606"/><rect x="854.57" y="165.5" width="2.8" height="13.2" fill="#58c4dc"/><rect x="857.34" y="174.8" width="2.8" height="6.2" fill="#58c4dc"/><rect x="860.11" y="179.5" width="2.8" height="7.7" fill="#58c4dc"/><rect x="862.87" y="183.4" width="2.8" height="5.4" fill="#58c4dc"/><rect x="865.64" y="173.3" width="2.8" height="15.5" fill="#060606"/><rect x="868.41" y="173.3" width="2.8" height="14.7" fill="#58c4dc"/><rect x="871.17" y="174.8" width="2.8" height="14.0" fill="#060606"/><rect x="873.94" y="174.8" width="2.8" height="15.6" fill="#58c4dc"/><rect x="876.71" y="189.6" width="2.8" height="22.4" fill="#58c4dc"/><rect x="879.48" y="211.3" width="2.8" height="37.1" fill="#58c4dc"/><rect x="882.24" y="247.6" width="2.8" height="12.4" fill="#58c4dc"/><rect x="885.01" y="253.8" width="2.8" height="5.4" fill="#060606"/><rect x="887.78" y="254.6" width="2.8" height="7.0" fill="#58c4dc"/><rect x="890.54" y="261.6" width="2.8" height="18.4" fill="#58c4dc"/><rect x="893.31" y="280.0" width="2.8" height="6.4" fill="#58c4dc"/><rect x="896.08" y="285.6" width="2.8" height="14.0" fill="#58c4dc"/><rect x="898.84" y="277.9" width="2.8" height="21.7" fill="#060606"/><rect x="901.61" y="277.9" width="2.8" height="10.1" fill="#58c4dc"/><rect x="904.38" y="267.0" width="2.8" height="21.0" fill="#060606"/><rect x="907.15" y="263.0" width="2.8" height="4.8" fill="#060606"/><rect x="909.91" y="263.0" width="2.8" height="11.8" fill="#58c4dc"/><rect x="912.68" y="274.8" width="2.8" height="5.2" fill="#58c4dc"/><rect x="915.45" y="280.0" width="2.8" height="8.7" fill="#060606"/><rect x="918.21" y="271.6" width="2.8" height="8.4" fill="#060606"/><rect x="920.98" y="267.8" width="2.8" height="5.4" fill="#060606"/><rect x="923.75" y="267.0" width="2.8" height="1.5" fill="#060606"/><rect x="926.51" y="267.0" width="2.8" height="2.3" fill="#58c4dc"/><rect x="929.28" y="267.0" width="2.8" height="3.0" fill="#58c4dc"/><rect x="932.05" y="267.8" width="2.8" height="7.7" fill="#58c4dc"/><rect x="934.82" y="275.5" width="2.8" height="35.5" fill="#58c4dc"/><rect x="937.58" y="301.0" width="2.8" height="10.0" fill="#060606"/><rect x="940.35" y="301.0" width="2.8" height="10.0" fill="#58c4dc"/><rect x="943.12" y="310.0" width="2.8" height="17.3" fill="#58c4dc"/><rect x="945.88" y="312.6" width="2.8" height="15.4" fill="#060606"/><rect x="948.65" y="312.6" width="2.8" height="20.2" fill="#58c4dc"/><rect x="951.42" y="329.7" width="2.8" height="7.7" fill="#58c4dc"/><rect x="954.18" y="332.0" width="2.8" height="5.4" fill="#060606"/><rect x="956.95" y="327.3" width="2.8" height="5.5" fill="#060606"/><rect x="959.72" y="281.7" width="2.8" height="44.9" fill="#060606"/><rect x="962.49" y="281.7" width="2.8" height="1.0" fill="#58c4dc"/><rect x="965.25" y="267.8" width="2.8" height="13.9" fill="#060606"/><rect x="968.02" y="263.0" width="2.8" height="5.5" fill="#060606"/><rect x="970.79" y="262.3" width="2.8" height="10.9" fill="#58c4dc"/><rect x="973.55" y="253.0" width="2.8" height="20.2" fill="#060606"/><rect x="976.32" y="252.7" width="2.8" height="9.6" fill="#58c4dc"/><rect x="115.93" y="-5" width="2.5" height="26.0" fill="#58c4dc"/>
</g>
</svg>
<div class="pl" style="top:31.0px">80,000</div>
<div class="pl" style="top:79.9px">78,000</div>
<div class="pl" style="top:128.9px">76,000</div>
<div class="pl" style="top:177.8px">74,000</div>
<div class="pl" style="top:422.5px">64,000</div>
<div class="pl" style="top:471.5px">62,000</div>
<div class="pl" style="top:520.4px">60,000</div>
<div class="tag" style="top:220.0px;background:#1e5cf5;color:#fff">71,801</div>
<div class="tag" style="top:237.0px;background:#1e5cf5;color:#fff">71,186</div>
<div style="position:absolute;left:0;top:0;transform:translateY(0.5px);will-change:transform">
<div class="tag" style="top:284.0px;background:#1e5cf5;color:#fff">70,762</div>
<div class="tag" style="top:301.0px;background:#e8843c;color:#fff">70,426</div>
<div class="tag" style="top:318.0px;background:#9af1f6;color:#131722">70,365</div>
<div class="tag" style="top:335.0px;background:#1e5cf5;color:#fff">70,063</div>
<div class="tag" style="top:352.0px;background:#db5637;color:#fff">70,063</div>
<div class="tag" style="top:369.0px;background:#e8843c;color:#fff">69,578</div>
<div class="tag" style="top:386.0px;background:#1e5cf5;color:#fff">68,939</div>
<div class="tag" style="top:403.0px;background:#1e5cf5;color:#fff">67,354</div>
</div>
<div class="abs" style="left:1062.3px;top:254px;width:66.5px;height:31px;background:#70c5d9;border-radius:0 2px 2px 0;font-size:13px;letter-spacing:.35px;color:#131722;padding-left:8.6px;line-height:14.5px;padding-top:0px">70,921<br><span style="letter-spacing:.2px;color:#1c2a33">02:42:22</span></div>
<div class="abs" style="left:1003px;top:254px;width:58px;height:16.6px;background:#70c5d9;border-radius:2px 0 0 2px;font-size:11.7px;line-height:16px;color:#131722;padding-left:5.2px;letter-spacing:0">BTCUSD</div>
<div class="abs" style="left:1065.5px;top:3.4px;width:63px;height:25.2px;border:1px solid #e3e5ea;border-radius:4px;background:#fff;font-size:12.4px;line-height:23.6px;padding-left:3.2px;letter-spacing:-.35px">USD<svg width="8" height="6" viewBox="0 0 8 6" style="position:absolute;left:51.5px;top:10.5px"><path d="M1.2 1.3 L4 4.1 L6.8 1.3" fill="none" stroke="#131722" stroke-width="1.4"/></svg></div>
<div class="tl" style="left:9.0px;">25</div>
<div class="tl" style="left:125.0px;font-weight:700;">Feb</div>
<div class="tl" style="left:191.5px;">5</div>
<div class="tl" style="left:258.0px;">9</div>
<div class="tl" style="left:324.5px;">13</div>
<div class="tl" style="left:391.0px;">17</div>
<div class="tl" style="left:457.3px;">21</div>
<div class="tl" style="left:523.7px;">25</div>
<div class="tl" style="left:590.0px;font-weight:700;">Mar</div>
<div class="tl" style="left:656.5px;">5</div>
<div class="tl" style="left:723.0px;">9</div>
<div class="tl" style="left:789.3px;">13</div>
<div class="tl" style="left:855.7px;">17</div>
<div class="tl" style="left:922.0px;">21</div>
<div class="tl" style="left:988.4px;">25</div>
<div class="abs" style="left:0;top:606.1px;width:1131px;height:1px;background:#e6e8ec"></div>
<div class="abs" style="left:299.7px;top:614px;width:1px;height:25px;background:#e6e8ec"></div>
<div class="bb" style="left:22.6px">1D</div>
<div class="bb" style="left:53.0px">5D</div>
<div class="bb" style="left:85.5px">1M</div>
<div class="bb" style="left:118.6px">3M</div>
<div class="bb" style="left:151.5px">6M</div>
<div class="bb" style="left:188.0px">YTD</div>
<div class="bb" style="left:222.5px">1Y</div>
<div class="bb" style="left:252.5px">5Y</div>
<div class="bb" style="left:281.5px">All</div>
<div class="abs" style="left:1029px;top:618.6px;font-size:14px;line-height:17px;letter-spacing:.58px;color:#131722">09:17:38 UTC</div>
<svg class="abs" style="left:313px;top:615px" width="22" height="22" viewBox="0 0 22 22" fill="none" stroke="#131722" stroke-width="1.3"><path d="M6.2 1.2v3.6M14.8 1.2v3.6M2.7 8V5.5a2.3 2.3 0 0 1 2.3-2.3h11.2a2.3 2.3 0 0 1 2.3 2.3v11a2.3 2.3 0 0 1-2.3 2.3H11"/><path d="M2.7 8h15.8" stroke-width="1.1"/><path d="M1.5 14.5h7.3M6 11.3l3.1 3.2L6 17.7"/></svg>
<svg class="abs" style="left:1087.6px;top:582.6px" width="20" height="20" viewBox="0 0 20 20" fill="none" stroke="#131722" stroke-width="1.3"><path d="M6.2 3.6h7.3l3.6 6.3-3.6 6.3H6.2L2.6 9.9z" stroke-linejoin="round"/><circle cx="9.8" cy="9.9" r="2.1"/></svg>
<svg class="abs" style="left:960px;top:552.4px" width="30" height="26" viewBox="0 0 30 26" fill="none"><path d="M9.6 19.6A9.6 9.6 0 1 0 8.2 9.4" stroke="#a44ec9" stroke-width="1.5"/><path d="M19.6 6.8l-5.2 6.6h3.6l-1.6 4.8 5.4-6.8h-3.7z" fill="#a44ec9"/><path d="M6.6 11.2c.5 2.7 1.3 3.7 4.3 4.3-3 .6-3.8 1.6-4.3 4.3-.5-2.7-1.3-3.7-4.3-4.3 3-.6 3.8-1.6 4.3-4.3z" fill="#5b63f5"/></svg>
<svg class="abs" style="left:11px;top:548px" width="32" height="18" viewBox="0 0 32 18"><path d="M0 1.2h12.2v14.6H6.2V7.4H0z" fill="#131722"/><circle cx="16.3" cy="4.3" r="3.1" fill="#131722"/><path d="M23.3 1.2h7.3l-6.2 14.6h-7.2z" fill="#131722"/></svg>
<div class="abs" style="left:48px;top:544px;font-size:20.5px;font-weight:700;letter-spacing:0;color:#131722;line-height:26px">TradingView</div>
<div class="lg" style="left:6px;top:2.9px;width:651.4px;height:24px"></div>
<div class="lg" style="left:6px;top:68.9px;width:341.8px;height:23.7px"></div>
<div class="lg" style="left:6px;top:92.6px;width:432.8px;height:24.4px"></div>
<svg class="abs" style="left:8px;top:6.2px" width="18" height="18" viewBox="0 0 18 18"><circle cx="9" cy="9" r="8.9" fill="#ee8d35"/><text x="9" y="13.1" font-family="Liberation Sans, sans-serif" font-size="11.5" font-weight="700" fill="#fff" text-anchor="middle" transform="rotate(12 9 9)">₿</text></svg>
<div class="abs" style="left:30.3px;top:6.2px;font-size:15.9px;line-height:20px;color:#131722;letter-spacing:0">Bitcoin / U.S. Dollar · 4h · Bitstamp</div>
<div class="abs" style="left:285.5px;top:6.5px;width:17px;height:17px;border-radius:50%;background:rgba(58,112,92,.2)"></div><div class="abs" style="left:290.3px;top:11.3px;width:7.4px;height:7.4px;border-radius:50%;background:#2f5a4d"></div>
<div class="abs" style="left:311.3px;top:8.1px;font-size:13.5px;line-height:16px;letter-spacing:0.42px;color:#131722;">O</div>
<div class="abs" style="left:373.5px;top:8.1px;font-size:13.5px;line-height:16px;letter-spacing:0.42px;color:#131722;">H</div>
<div class="abs" style="left:436.3px;top:8.1px;font-size:13.5px;line-height:16px;letter-spacing:0.42px;color:#131722;">L</div>
<div class="abs" style="left:495.8px;top:8.1px;font-size:13.5px;line-height:16px;letter-spacing:0.42px;color:#131722;">C</div>
<div class="abs" style="left:323.0px;top:8.1px;font-size:13.5px;line-height:16px;letter-spacing:0.42px;color:#d7565a;">71,278</div>
<div class="abs" style="left:385.3px;top:8.1px;font-size:13.5px;line-height:16px;letter-spacing:0.42px;color:#d7565a;">71,318</div>
<div class="abs" style="left:444.5px;top:8.1px;font-size:13.5px;line-height:16px;letter-spacing:0.42px;color:#d7565a;">70,839</div>
<div class="abs" style="left:506.3px;top:8.1px;font-size:13.5px;line-height:16px;letter-spacing:0.42px;color:#d7565a;">70,921</div>
<div class="abs" style="left:557.6px;top:8.1px;font-size:13.5px;line-height:16px;letter-spacing:0.29px;color:#d7565a;">−358 (−0.50%)</div>
<div class="abs" style="left:8.3px;top:31.5px;width:65.6px;height:33.4px;border:1px solid #d9534f;border-radius:5px;background:#fff;text-align:center;color:#d9534f"><div style="font-size:13.3px;font-weight:400;-webkit-text-stroke:.45px #d9534f;line-height:15px;margin-top:0.6px;letter-spacing:.55px">70,944</div><div style="font-size:11.5px;line-height:13px;letter-spacing:.5px;margin-top:.9px">SELL</div></div>
<div class="abs" style="left:97.3px;top:31.5px;width:66.4px;height:33.4px;border:1px solid #2f6bf2;border-radius:5px;background:#fff;text-align:center;color:#2f6bf2"><div style="font-size:13.3px;font-weight:400;-webkit-text-stroke:.45px #2f6bf2;line-height:15px;margin-top:0.6px;letter-spacing:.55px">70,945</div><div style="font-size:11.5px;line-height:13px;letter-spacing:.5px;margin-top:.9px">BUY</div></div>
<div class="abs" style="left:83px;top:42px;font-size:10.5px;line-height:12px;color:#131722">1</div>
<div class="abs" style="left:8.5px;top:74.4px;font-size:13.5px;line-height:16px;letter-spacing:0.46px;color:#131722;">EMA 20/50/100/200</div>
<div class="abs" style="left:144.6px;top:74.4px;font-size:13.5px;line-height:16px;letter-spacing:0.42px;color:#db5637;">70,063</div>
<div class="abs" style="left:196.2px;top:74.4px;font-size:13.5px;line-height:16px;letter-spacing:0.42px;color:#e8843c;">70,426</div>
<div class="abs" style="left:247.9px;top:74.4px;font-size:13.5px;line-height:16px;letter-spacing:0.42px;color:#86e4ec;">70,365</div>
<div class="abs" style="left:299.5px;top:74.4px;font-size:13.5px;line-height:16px;letter-spacing:0.42px;color:#2962ff;">70,762</div>
<div class="abs" style="left:8.5px;top:98.2px;font-size:13.5px;line-height:16px;letter-spacing:0.1px;color:#131722;">DKC <span style="color:#787b86">20 20 1 close</span></div>
<div class="abs" style="left:132.0px;top:98.2px;font-size:13.5px;line-height:16px;letter-spacing:0.42px;color:#2962ff;">67,354</div>
<div class="abs" style="left:183.6px;top:98.2px;font-size:13.5px;line-height:16px;letter-spacing:0.42px;color:#2962ff;">71,801</div>
<div class="abs" style="left:235.2px;top:98.2px;font-size:13.5px;line-height:16px;letter-spacing:0.42px;color:#e8843c;">69,578</div>
<div class="abs" style="left:286.8px;top:98.2px;font-size:13.5px;line-height:16px;letter-spacing:0.42px;color:#2962ff;">71,186</div>
<div class="abs" style="left:338.4px;top:98.2px;font-size:13.5px;line-height:16px;letter-spacing:0.42px;color:#2962ff;">70,063</div>
<div class="abs" style="left:390.0px;top:98.2px;font-size:13.5px;line-height:16px;letter-spacing:0.42px;color:#2962ff;">68,939</div>
<div class="abs" style="left:8px;top:120.5px;width:28.6px;height:19.7px;border:1px solid #e3e5ea;border-radius:3px;background:#fff"><svg width="12" height="8" viewBox="0 0 12 8" style="position:absolute;left:7.2px;top:5px"><path d="M1.6 6 L6 1.8 L10.4 6" fill="none" stroke="#131722" stroke-width="1.4"/></svg></div>
</body></html>
